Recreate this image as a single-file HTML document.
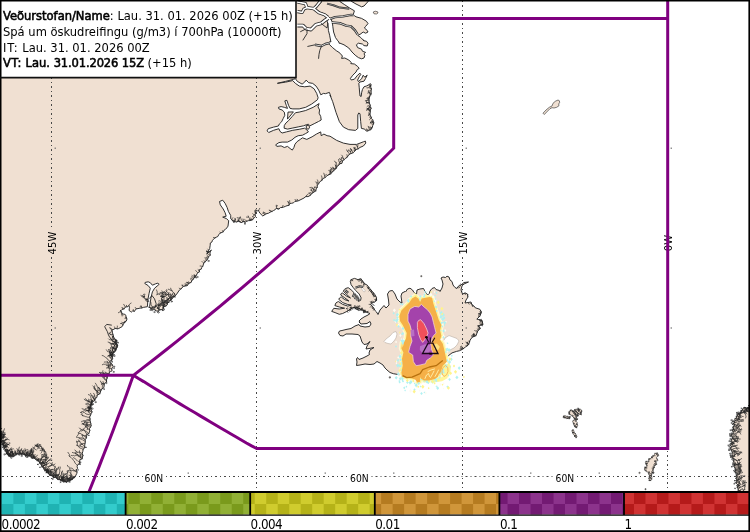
<!DOCTYPE html>
<html lang="is"><head><meta charset="utf-8"><title>Spá um öskudreifingu</title>
<style>
html,body{margin:0;padding:0;background:#fff;overflow:hidden;}
body{width:750px;height:532px;overflow:hidden;position:relative;font-family:'DejaVu Sans Condensed', 'Liberation Sans', sans-serif;}
#map{position:absolute;left:0;top:0;width:750px;height:532px;display:block;}
.land{fill:#f0e0d2;stroke:#262626;stroke-width:0.95;stroke-linejoin:round;}
.fj{fill:#fff;stroke:#262626;stroke-width:0.8;stroke-linejoin:round;}
.ln{fill:none;stroke:#262626;stroke-width:0.9;stroke-linejoin:round;stroke-linecap:round;}
.rl{fill:none;stroke:#262626;stroke-width:0.7;stroke-linejoin:round;stroke-linecap:round;}
.fir{fill:none;stroke:#800080;stroke-width:3;stroke-linejoin:miter;stroke-linecap:butt;}
.grid{fill:none;stroke:#484848;stroke-width:1;stroke-dasharray:2 3 1 3;}
.lab{font-family:'DejaVu Sans Condensed', 'Liberation Sans', sans-serif;font-size:11.2px;fill:#000;text-anchor:middle;}
#info{position:absolute;left:0;top:0;width:296px;height:78px;background:#fff;}
#info div{position:absolute;left:3px;white-space:nowrap;font-size:12.8px;line-height:16px;color:#000;}
#info b{font-weight:normal;-webkit-text-stroke:0.55px #000;}
#legend{position:absolute;left:0;top:491px;width:750px;height:41px;background:#fff;}
.lg{position:absolute;top:516.6px;font-size:13.3px;line-height:15px;letter-spacing:-0.55px;color:#000;white-space:nowrap;}
#frame{position:absolute;left:0;top:0;width:750px;height:532px;box-sizing:border-box;pointer-events:none;}
</style></head><body>
<svg id="map" width="750" height="532" viewBox="0 0 750 532">
<rect x="0" y="0" width="750" height="532" fill="#fff"/>
<g class="land">
<path d="M319.8 -1.6 319.8 1.2 315.8 5.6 313.8 8.4 319.0 13.2 324.6 15.2 326.2 17.2 326.4 19.2 328.0 24.0 328.4 30.4 329.6 35.2 330.9 42.0 329.7 41.6 329.1 44.2 332.3 47.4 336.3 50.7 339.2 52.5 340.0 53.2 342.4 56.0 341.6 58.4 344.8 58.0 348.8 60.0 351.2 62.4 350.8 63.6 354.4 64.0 357.6 66.4 359.2 68.4 357.2 69.6 356.0 72.0 352.8 75.2 350.4 78.4 351.2 80.0 354.4 79.2 357.6 75.2 360.0 73.2 360.8 74.4 359.2 76.8 357.6 80.0 358.4 81.6 361.6 78.8 363.2 75.2 364.8 77.2 367.2 75.2 365.6 78.4 364.0 81.2 360.0 82.0 358.8 83.2 359.2 87.2 359.6 92.0 360.0 96.0 361.2 96.4 361.6 92.8 362.4 89.6 364.0 86.8 366.4 86.0 368.8 84.8 370.4 83.6 371.0 84.9 370.7 86.1 370.9 87.6 371.5 88.7 371.4 89.5 371.0 90.8 371.2 92.2 371.2 93.4 371.1 94.5 370.1 94.8 369.9 96.1 369.3 97.3 369.2 98.5 369.0 99.5 369.1 100.5 369.1 102.1 369.5 102.8 369.6 103.9 370.4 105.3 370.0 106.5 370.7 107.2 371.1 108.6 370.3 109.9 370.2 111.0 370.2 112.0 370.0 113.4 370.0 114.5 370.4 115.9 371.4 117.2 371.6 118.6 372.6 119.8 373.3 121.3 373.8 122.9 373.3 124.2 372.7 125.6 372.4 127.0 371.9 127.9 371.2 129.2 370.0 130.0 368.6 130.3 367.7 131.0 366.3 131.1 364.7 129.1 361.4 128.4 360.7 121.7 360.0 113.7 358.7 113.0 357.8 115.0 357.8 128.4 355.4 130.4 348.7 129.7 343.4 127.1 339.4 121.7 336.0 112.4 332.7 101.7 330.0 95.0 330.8 96.4 329.4 92.4 325.4 93.7 323.4 93.4 320.8 94.8 318.7 90.1 316.1 86.1 312.7 83.4 308.7 82.7 306.1 80.1 304.7 82.1 302.1 84.1 297.4 81.4 295.4 78.7 293.4 79.4 285.4 81.4 277.4 83.3 285.4 82.2 292.7 80.6 295.4 83.4 299.4 86.1 304.7 86.8 310.1 86.1 314.1 88.8 316.7 93.4 318.1 97.7 317.4 99.8 311.6 104.1 305.7 107.3 299.2 108.9 292.8 108.9 290.1 108.4 288.5 105.2 286.9 100.3 284.8 100.9 286.4 105.7 287.5 108.4 284.3 107.3 281.1 106.6 278.4 107.3 278.9 108.9 282.1 110.0 284.3 112.1 284.8 115.3 283.2 118.5 281.6 121.8 279.4 123.9 278.4 126.0 273.6 127.1 268.2 128.7 267.1 130.9 268.7 132.5 273.6 130.3 278.9 128.7 280.0 131.4 282.1 133.0 286.4 131.9 292.8 130.3 299.2 129.3 304.6 128.2 306.8 129.8 308.4 131.9 305.7 133.5 302.5 135.2 298.2 135.7 295.0 137.3 291.8 140.0 287.5 142.1 282.1 142.1 278.9 142.6 275.7 144.8 276.8 146.4 281.1 145.9 284.3 147.5 287.5 146.4 290.1 148.5 292.3 150.1 293.9 147.5 295.0 144.2 297.1 141.6 300.3 139.4 302.5 137.8 306.8 139.4 312.1 136.8 316.4 134.1 320.7 131.9 321.2 135.7 323.9 134.1 327.1 135.7 330.0 136.2 336.7 140.4 343.4 143.1 350.0 144.4 356.7 144.4 363.4 141.8 365.4 141.1 365.8 143.1 363.4 146.0 360.0 147.4 358.1 148.9 355.6 149.6 354.7 151.2 353.1 152.8 351.0 153.5 349.2 154.4 348.1 155.9 346.8 157.6 345.2 158.5 344.1 159.8 342.5 160.8 342.0 163.3 339.9 163.7 338.5 165.4 336.9 166.4 336.5 168.2 334.8 169.4 333.7 170.9 332.0 172.0 330.7 174.0 328.5 174.9 326.6 175.9 325.3 177.5 322.8 178.6 321.9 180.4 319.8 181.7 318.7 183.5 317.3 185.5 317.2 187.5 316.1 188.9 315.9 190.9 314.7 191.6 313.1 192.6 311.6 193.7 310.3 195.4 308.0 196.6 305.7 196.6 304.0 198.0 300.0 200.0 298.3 200.8 296.6 201.2 294.8 201.5 293.5 202.8 291.6 203.3 289.9 203.4 288.9 205.4 287.0 205.7 285.3 206.4 283.8 207.0 282.0 207.5 280.4 207.6 278.9 209.0 276.4 208.2 275.3 209.6 273.4 210.6 272.0 211.4 270.1 212.2 268.6 213.2 266.3 213.7 264.6 214.8 262.8 216.0 260.1 213.4 259.0 211.7 258.6 210.5 257.5 210.8 255.6 209.8 256.1 211.6 255.5 213.0 255.1 214.5 255.5 216.5 254.3 217.9 253.2 218.9 252.1 220.0 250.1 220.6 248.6 220.6 246.8 221.2 245.0 222.3 243.4 221.6 241.5 222.5 240.2 222.0 238.2 221.0 236.2 221.9 234.4 221.5 232.8 221.0 231.9 219.8 230.7 218.7 230.7 215.4 228.4 211.4 227.1 207.4 225.1 203.3 222.7 200.2 219.5 201.5 220.3 204.9 223.2 209.0 225.1 212.7 226.2 216.2 222.7 217.1 226.4 218.6 228.7 220.7 228.0 226.1 227.0 227.8 225.7 229.0 224.1 230.2 223.1 231.9 221.4 232.6 219.7 233.4 218.7 234.8 217.8 236.5 216.3 237.2 214.9 237.9 213.7 239.1 212.5 240.3 212.0 241.9 210.3 243.0 210.2 245.3 209.9 247.0 209.7 248.7 208.6 250.5 207.8 252.1 206.7 254.1 211.4 250.0 210.4 251.6 209.9 253.0 210.3 255.1 208.8 256.6 208.1 257.8 207.3 259.6 206.1 260.7 204.8 262.2 203.8 263.0 203.2 265.0 202.8 266.3 201.7 267.6 201.2 269.2 199.3 269.7 199.5 271.8 197.8 272.7 197.1 273.8 196.1 275.7 195.3 276.9 193.8 278.1 193.1 279.6 191.7 280.5 191.3 282.3 189.8 282.9 188.4 283.7 187.6 285.3 185.9 285.9 184.5 286.1 183.1 286.3 182.0 288.0 180.8 289.0 179.4 290.1 176.7 294.1 175.7 295.3 174.9 296.3 173.6 297.0 172.4 298.1 171.7 299.1 170.8 300.4 169.4 300.4 169.0 302.3 167.6 302.7 167.2 304.7 166.4 305.7 164.8 306.4 163.6 306.9 163.5 308.4 162.2 309.6 160.6 309.7 159.5 309.9 158.4 311.3 156.5 310.9 155.3 310.5 154.0 309.2 152.6 309.1 151.2 309.0 150.0 307.7 149.6 306.7 150.3 302.1 151.1 297.0 152.4 291.9 154.6 288.2 157.1 286.1 159.1 284.3 157.9 283.1 155.4 283.9 152.4 285.2 150.3 282.7 148.2 281.8 145.2 282.4 144.8 283.5 148.2 285.6 150.3 288.2 149.0 293.7 147.9 299.5 147.4 306.7 143.3 307.4 141.6 308.0 140.0 308.1 138.0 308.6 136.2 308.8 135.4 309.9 134.3 311.4 132.8 310.8 131.3 312.1 130.3 311.4 129.1 310.5 129.3 308.7 129.5 307.3 128.9 305.7 127.3 306.8 125.4 306.9 124.3 308.7 122.9 309.2 121.4 310.2 120.0 310.8 121.6 311.8 121.8 313.6 123.2 314.0 124.9 314.4 125.9 315.3 126.0 316.6 126.7 318.3 126.9 320.0 125.9 321.2 125.0 322.4 123.7 323.4 122.9 325.1 121.8 326.9 120.1 327.7 118.8 328.5 117.3 328.8 115.1 328.4 113.9 329.3 112.6 329.8 111.6 330.1 112.3 331.4 112.5 332.9 113.0 334.6 113.3 336.0 113.9 337.4 114.2 338.6 116.1 339.7 115.2 341.0 115.6 342.7 116.6 343.7 117.5 344.9 116.9 346.3 116.5 347.8 115.6 349.0 115.5 350.3 114.9 352.1 112.9 352.5 112.4 354.4 110.7 354.6 110.0 356.0 116.8 340.0 116.9 341.6 116.4 342.9 116.6 344.1 117.7 345.6 117.1 347.3 116.4 348.8 115.8 350.5 114.2 350.8 113.1 352.4 112.4 353.4 112.8 354.6 112.7 356.2 112.4 357.3 112.6 358.4 112.0 359.9 111.1 360.7 109.7 361.3 110.2 362.7 111.6 363.7 112.4 365.0 113.2 366.7 112.2 367.8 111.7 369.0 112.1 370.8 110.6 371.5 109.4 372.2 109.1 373.8 108.0 374.9 107.5 375.7 107.2 377.0 107.0 378.5 106.5 379.9 106.6 381.9 105.5 382.6 104.3 383.9 104.1 385.2 104.0 387.1 103.0 388.5 101.6 388.9 101.0 390.4 100.3 392.1 99.9 393.8 98.0 394.6 97.1 395.6 96.9 397.4 95.6 398.3 94.4 399.0 94.4 400.7 93.0 401.5 91.9 402.6 91.1 404.1 90.5 405.2 89.7 406.7 89.9 408.4 89.1 409.8 88.7 411.0 92.1 400.0 92.1 401.8 91.6 403.8 91.2 405.5 90.5 407.1 90.7 408.7 91.3 410.2 92.1 411.9 90.9 413.9 90.5 415.5 89.6 417.0 90.1 418.9 90.0 420.3 90.4 421.8 90.8 423.8 91.2 425.5 90.5 427.2 89.4 428.7 89.8 430.5 89.4 431.9 88.8 433.6 87.2 434.3 86.6 436.2 86.5 437.9 85.2 439.5 85.3 441.6 85.1 443.2 84.7 445.1 84.8 447.1 83.9 448.3 83.1 449.7 82.8 451.5 82.2 453.6 83.0 455.3 82.4 457.2 82.2 458.9 79.9 459.5 79.7 461.8 79.2 463.8 77.4 465.1 77.1 466.6 77.6 468.4 76.4 469.7 77.0 471.9 76.8 473.4 74.8 477.4 73.6 477.7 72.6 478.2 72.3 479.4 70.7 479.1 70.1 480.2 69.2 480.8 68.1 481.1 67.4 481.1 66.8 482.4 65.6 481.5 64.4 481.7 63.2 482.0 62.6 480.2 61.2 480.9 60.2 479.9 59.5 479.0 57.7 479.5 57.1 478.4 56.2 477.6 55.5 477.1 53.5 477.7 52.9 476.7 52.1 475.7 51.2 475.4 49.7 475.4 49.2 474.1 48.2 473.5 47.7 472.2 46.1 472.8 46.7 470.7 44.8 470.8 44.4 469.9 43.7 468.7 43.6 467.4 42.1 467.1 41.7 466.1 41.6 464.8 40.6 463.9 39.6 463.2 39.6 461.9 38.7 461.4 34.7 458.7 34.0 457.6 32.7 458.3 31.7 458.1 31.2 457.2 30.6 455.8 29.2 455.7 28.8 455.4 28.0 455.1 27.0 455.2 25.5 456.0 25.3 454.4 24.1 454.3 23.1 454.0 22.1 454.1 21.0 454.2 20.5 453.6 19.5 453.8 18.3 454.2 17.0 453.2 16.5 454.6 15.3 455.2 14.4 455.9 13.4 456.6 12.5 456.3 11.1 455.6 10.5 456.1 9.8 456.3 9.3 455.3 8.3 455.0 7.7 454.0 6.2 453.6 6.4 452.5 6.2 451.5 4.9 450.9 5.1 449.4 4.6 448.5 4.1 447.5 3.7 446.8 3.3 446.2 3.4 444.9 2.0 444.4 2.6 443.6 1.9 442.6 1.0 441.8 2.3 440.7 1.9 439.9 1.0 438.8 2.0 438.1 1.5 436.7 0.6 436.0 1.0 435.0 1.7 433.9 0.6 433.2 1.7 431.6 0.2 431.4 -0.7 430.8 -1.3 429.8 -2.0 429.0 -3.0 428.6 -4.0 428.0 -5.0 -5.0Z"/>
<path d="M321.4 -1.6 321.4 2.0 317.4 6.0 315.0 8.4 319.0 12.0 324.6 14.0 328.6 16.8 330.6 18.4 332.4 22.4 332.8 26.4 333.6 32.0 335.5 37.6 337.8 40.8 338.9 42.0 339.0 43.2 340.0 43.2 344.0 44.8 348.8 48.0 352.0 52.0 355.2 55.2 358.4 57.6 361.6 58.8 364.0 58.0 364.8 55.6 364.0 53.6 365.6 52.4 362.4 51.2 361.6 49.2 357.6 47.6 356.4 44.8 358.4 43.2 362.4 44.0 364.0 45.6 367.2 46.0 368.0 43.2 366.4 41.2 364.0 40.8 363.2 40.0 364.0 40.8 360.8 37.6 357.6 35.2 360.0 34.4 363.2 32.0 365.6 33.2 368.0 32.0 367.2 30.4 364.4 28.0 365.6 26.4 368.0 23.6 366.4 21.2 361.6 18.4 356.0 16.8 353.2 14.8 354.4 10.8 349.6 8.0 344.8 4.8 340.0 1.6 338.4 -1.6Z"/>
<path d="M351.2 -1.6 351.2 1.2 356.0 4.0 361.6 6.8 364.0 6.0 368.0 1.6 368.4 -1.6Z"/>
<path d="M319.1 103.6 313.2 107.3 305.7 110.5 299.2 112.1 295.5 112.7 292.3 116.4 288.5 120.7 285.9 123.0 284.3 125.5 284.1 128.2 287.5 129.1 292.8 128.0 298.2 126.9 303.5 125.8 306.2 124.8 308.4 124.2 310.0 125.8 314.2 123.7 318.5 121.5 321.2 120.0 320.7 116.4 319.1 113.2 319.6 110.0 318.0 106.8Z"/>
<path d="M288.0 112.1 293.4 111.9 287.5 119.1Z"/>
<path d="M306.2 125.7 308.4 125.2 309.7 127.1 308.4 129.3 306.4 128.5Z"/>
<path d="M331.7 311.4 333.8 308.3 339.3 309.0 344.6 308.2 339.3 307.0 334.9 305.6 335.8 303.1 337.2 302.1 338.5 301.6 342.7 304.4 347.8 306.1 351.3 305.1 347.8 304.5 342.7 302.6 338.8 299.4 339.5 298.0 340.5 297.3 341.3 297.0 344.8 299.7 348.9 301.0 344.8 297.9 340.7 295.0 341.2 293.6 342.2 292.9 343.0 293.4 346.9 296.3 350.5 298.0 346.9 294.7 343.3 291.3 344.4 289.4 345.9 288.4 348.2 287.7 351.1 289.8 354.5 293.2 357.9 296.6 359.2 299.5 358.3 301.4 360.6 300.4 361.1 297.8 359.2 294.0 355.8 290.6 353.3 287.7 351.1 284.7 350.3 281.4 351.1 279.6 354.5 278.4 357.9 279.6 360.9 278.8 363.0 281.8 364.7 283.9 367.2 285.1 369.8 288.5 372.3 291.5 374.8 294.5 376.5 297.8 376.5 300.4 374.4 302.1 372.3 302.5 370.6 304.2 372.3 306.3 374.0 308.8 375.7 311.4 376.5 312.0 378.0 314.5 380.0 310.0 384.0 305.5 386.0 308.0 389.0 305.0 388.5 300.0 387.5 294.0 389.5 291.0 392.5 290.5 395.0 294.0 397.0 299.0 400.0 302.0 402.0 303.0 401.0 296.0 402.0 293.0 405.0 291.5 405.5 292.0 407.5 289.0 410.0 288.2 412.5 290.0 414.0 292.5 416.5 294.5 417.0 290.0 420.0 289.0 423.5 288.5 425.0 291.5 427.0 294.5 429.0 294.5 430.0 291.0 432.0 288.5 434.5 287.5 436.0 289.5 439.5 290.5 440.0 291.5 442.0 288.0 443.0 284.0 442.0 280.0 441.0 278.0 443.0 277.0 445.5 277.5 447.0 276.2 449.0 277.0 450.0 280.0 452.0 281.5 453.0 285.0 455.0 287.5 457.0 288.5 458.0 286.5 461.0 285.0 464.0 282.5 468.5 282.0 464.0 284.0 462.0 286.0 461.0 290.0 462.5 294.0 465.0 293.0 467.5 294.0 468.0 297.0 466.0 300.0 465.0 303.0 468.0 302.5 471.0 302.0 472.0 305.0 475.0 307.0 475.3 307.8 479.9 309.3 481.4 312.3 479.9 316.1 476.8 319.1 482.1 320.6 482.9 324.4 477.6 325.9 480.6 328.1 477.6 331.1 476.1 335.6 472.3 337.1 470.1 340.1 468.6 344.7 465.6 346.9 462.6 349.2 459.6 350.7 456.5 351.4 452.0 352.9 449.0 355.2 447.0 357.0 442.8 360.4 436.1 365.7 429.4 367.0 422.7 369.7 420.1 373.7 412.0 377.1 406.7 377.7 401.4 375.1 393.4 373.7 390.0 372.5 387.0 370.0 385.0 368.0 383.0 365.0 380.0 363.0 377.0 361.5 374.0 364.0 370.0 364.5 365.0 364.0 360.0 365.0 356.5 365.5 357.0 362.0 356.5 359.0 357.5 357.5 359.0 359.5 363.0 358.0 367.0 356.0 369.5 354.5 369.0 353.0 370.0 350.0 374.0 347.5 369.0 348.5 366.0 349.0 367.0 346.0 370.0 341.5 367.0 344.0 364.0 344.5 362.0 342.0 361.0 339.0 360.0 336.0 358.0 334.5 352.0 334.0 346.0 334.0 343.0 336.0 340.0 335.5 338.5 333.0 339.5 331.0 342.0 330.5 346.0 329.5 351.0 328.5 355.0 326.0 359.0 324.5 360.0 326.0 365.0 327.0 369.5 326.5 371.0 324.0 370.0 321.5 367.0 323.5 361.0 324.0 359.0 322.0 360.0 322.5 359.0 321.0 361.0 319.0 364.0 317.0 368.0 315.0 370.0 313.5 366.4 312.2 363.8 310.5 361.3 309.7 358.8 308.0 355.4 307.1 352.8 307.6 351.1 308.8 346.9 311.4 342.7 313.5 339.3 314.3 335.1 312.6Z"/>
<path d="M552.0 106.0 553.0 103.3 555.3 101.3 558.0 100.0 559.3 100.7 559.7 102.3 558.7 104.0 559.0 105.7 556.7 107.3 554.0 108.0 552.0 107.7 550.0 108.7 546.7 112.0 544.3 114.5 543.0 113.2 546.0 110.0 549.3 107.3Z" stroke-width="0.6"/>
<path d="M373.2 12.0 375.2 11.2 377.6 11.8 378.0 13.0 376.4 14.0 374.0 13.8Z" stroke-width="0.6"/>
<path d="M574.2 409.5 575.3 409.4 576.0 409.3 576.5 409.0 577.3 409.8 578.4 410.2 578.6 411.2 579.7 411.9 580.5 412.9 581.1 413.6 581.5 415.0 580.2 414.3 579.2 414.2 578.1 413.5 577.0 412.7 576.0 412.1 575.9 410.9 575.1 410.0Z" stroke-width="0.6"/>
<path d="M577.6 408.4 578.4 408.9 579.9 409.1 580.4 409.7 581.8 410.2 581.7 411.3 581.2 412.8 580.4 412.3 579.7 411.4 579.4 410.6 578.4 410.1 578.2 408.9Z" stroke-width="0.6"/>
<path d="M573.0 411.0 574.4 410.5 575.3 410.9 575.9 411.6 576.7 412.3 577.2 413.0 577.8 413.9 578.2 415.3 578.2 416.2 577.2 416.1 576.9 415.7 575.9 415.0 575.5 414.5 575.1 413.8 574.0 413.4 573.6 412.7 573.2 411.7Z" stroke-width="0.6"/>
<path d="M568.5 411.8 569.6 411.6 570.2 410.3 571.0 409.9 572.3 410.4 572.6 411.4 573.7 411.8 574.5 412.4 575.2 413.3 575.4 413.8 575.6 414.6 575.8 415.9 576.7 416.9 576.5 417.9 577.4 419.1 577.4 419.6 576.8 419.8 575.8 419.9 575.2 418.8 574.0 418.3 573.6 417.3 572.7 416.5 571.9 415.6 571.2 415.0 570.0 414.7 568.9 414.0 569.0 413.1Z" stroke-width="0.6"/>
<path d="M562.9 416.7 563.7 416.1 564.9 415.5 565.9 416.0 566.5 416.3 567.2 416.3 568.3 416.4 569.0 417.0 570.2 416.7 569.7 417.7 569.5 418.8 568.2 418.5 567.5 418.4 566.1 418.3 565.0 417.7 564.0 417.9 563.3 417.0Z" stroke-width="0.6"/>
<path d="M572.7 420.8 573.6 420.5 575.0 419.7 575.9 420.6 576.2 421.4 577.3 422.4 577.0 423.3 577.3 424.5 577.8 425.6 577.2 425.9 576.9 426.9 576.5 427.8 575.4 427.2 574.6 426.4 574.3 425.7 574.0 424.8 573.4 423.9 573.4 423.0 572.7 421.8Z" stroke-width="0.6"/>
<path d="M571.9 430.2 572.9 429.8 573.6 429.9 573.7 431.1 574.3 431.8 574.6 432.7 575.4 433.6 575.8 434.4 576.3 435.2 577.0 436.2 576.5 437.2 576.4 437.7 575.7 437.0 574.7 436.6 574.5 435.6 574.0 435.0 573.3 434.0 572.9 433.3 572.5 432.5 572.1 431.5Z" stroke-width="0.6"/>
<path d="M654.8 453.0 655.9 453.4 657.2 452.9 657.9 453.8 658.5 455.2 657.8 456.2 657.1 456.6 656.3 457.9 657.1 458.8 657.4 459.2 658.0 460.6 656.7 460.9 655.7 460.9 656.1 462.1 655.7 463.0 656.8 464.1 655.8 464.5 655.3 465.3 654.3 465.4 654.2 466.7 654.4 467.6 653.5 467.8 653.5 469.0 652.9 469.4 653.1 470.4 653.1 471.8 654.0 472.9 652.9 472.7 652.3 473.0 651.4 474.1 651.6 474.9 651.6 476.3 651.8 477.1 651.8 478.4 651.9 479.6 650.7 480.2 649.9 480.7 649.0 480.4 649.3 479.1 648.8 478.4 649.3 477.2 649.1 476.3 649.4 475.3 648.6 473.9 648.6 472.9 648.1 472.0 646.7 471.9 646.0 471.0 645.5 470.4 644.8 470.1 644.4 469.1 644.8 468.2 644.6 466.9 645.3 467.1 646.1 468.1 646.2 466.7 646.7 465.8 646.9 465.0 646.1 464.3 645.8 463.6 645.4 462.4 645.9 461.4 646.7 461.4 647.7 461.9 648.3 462.2 648.1 461.1 649.1 460.3 648.5 459.0 649.8 458.5 650.8 458.8 651.1 457.9 651.7 457.3 652.0 456.4 652.9 455.8 653.8 455.7 654.4 454.6 654.6 453.7Z" stroke-width="0.6"/>
<path d="M639.0 472.4 639.9 472.2 640.2 473.2 639.4 473.6 638.8 473.2Z" stroke-width="0.6"/>
<path d="M754.5 406.3 753.6 406.1 752.4 406.9 751.6 406.7 750.3 407.3 749.2 407.7 748.3 407.9 747.1 407.5 746.5 407.9 745.0 407.5 744.0 407.4 743.4 408.1 742.6 409.1 742.5 410.3 740.9 410.6 741.7 412.2 740.1 412.3 739.8 413.9 737.8 413.4 737.6 414.7 737.6 415.7 736.2 416.2 736.9 418.1 735.2 418.3 734.6 419.2 735.7 420.7 733.7 420.9 735.0 422.3 733.2 423.3 734.5 424.5 734.2 425.8 732.7 427.0 733.4 428.0 733.5 429.6 732.1 430.4 733.1 431.9 733.2 433.5 731.5 434.3 731.4 435.6 732.1 436.5 732.4 438.2 731.5 439.2 731.8 440.3 730.8 441.1 731.9 442.6 731.8 443.3 731.3 444.3 730.5 445.4 731.8 446.6 730.3 447.8 730.9 448.9 730.9 449.9 731.8 451.0 732.3 452.4 732.0 453.1 732.2 454.7 732.3 455.7 732.1 456.9 732.5 458.2 734.3 458.9 733.3 460.5 733.6 461.5 732.9 462.6 734.5 463.8 734.6 465.0 734.0 466.3 734.5 467.3 735.1 468.0 735.2 469.2 735.6 470.5 735.2 471.7 735.3 472.9 736.8 473.8 737.1 474.8 736.1 476.3 736.6 477.0 735.9 478.5 736.6 479.4 736.3 480.5 736.7 481.4 736.6 482.7 736.5 483.6 737.4 484.4 738.2 485.5 737.3 487.1 737.4 488.0 738.5 488.8 738.1 490.0 738.1 491.2 739.0 492.0 754.5 492.0Z"/>
<path d="M645.0 488.7 646.0 488.7 646.0 489.7 645.0 489.7Z" stroke-width="0.6"/>
<path d="M420.8 275.7 421.8 275.7 421.8 276.7 420.8 276.7Z" stroke-width="0.6"/>
<path d="M389.2 376.9 390.3 376.7 390.5 377.9 389.4 378.1Z" stroke-width="0.6"/>
</g>
<path d="M384.0 341.5 386.0 339.0 390.0 336.0 393.0 332.5 396.0 331.5 397.0 334.0 396.0 338.0 394.0 341.0 391.0 344.0 388.0 343.5 385.0 342.5Z" fill="#fff" stroke="#b9aca2" stroke-width="0.6"/>
<path d="M445.0 338.0 449.0 335.5 453.0 337.0 457.0 338.5 459.0 341.0 457.0 345.0 454.0 348.0 450.0 350.0 447.0 351.0 445.0 349.0 444.0 345.0 444.0 341.0Z" fill="#fff" stroke="#b9aca2" stroke-width="0.6"/>
<path d="M360.9 287.7 362.6 287.5 365.1 290.6 364.9 291.8 363.4 291.5Z" fill="#fff" stroke="#b9aca2" stroke-width="0.6"/>
<g stroke-linejoin="round">
<path d="M402.1 340.4 401.9 340.4 401.6 340.4 401.4 340.5 401.1 340.6 400.9 340.7 400.7 340.8 400.5 340.9 400.3 341.1 400.1 341.3 399.9 341.5 399.8 341.7 399.7 341.9 399.6 342.2 399.5 342.4 399.5 342.7 398.8 348.0 398.8 348.3 398.8 348.5 398.8 348.8 398.9 349.0 398.9 349.3 399.0 349.5 400.6 352.7 399.5 358.5 399.4 358.8 399.4 359.0 399.4 359.3 400.1 365.6 398.8 371.9 398.8 372.1 398.8 372.3 398.8 372.6 398.8 372.8 399.5 376.8 399.5 377.1 399.6 377.3 399.7 377.6 399.8 377.8 400.0 378.0 400.2 378.2 400.4 378.4 400.6 378.6 400.8 378.7 401.1 378.8 401.3 378.9 406.0 380.2 406.2 380.3 406.4 380.3 411.4 380.9 413.7 381.9 415.3 384.0 415.5 384.2 415.6 384.3 415.8 384.5 416.1 384.6 416.3 384.8 416.5 384.9 416.8 384.9 417.0 385.0 417.3 385.0 417.5 385.0 417.8 385.0 418.0 384.9 420.7 384.3 420.9 384.2 421.2 384.1 421.4 383.9 421.6 383.8 421.8 383.6 422.0 383.4 422.2 383.2 422.3 383.0 422.4 382.8 422.5 382.6 422.6 382.7 422.8 382.8 423.1 382.9 423.3 383.0 423.5 383.1 423.8 383.1 424.0 383.1 429.0 383.1 429.3 383.1 429.6 383.0 435.6 381.5 435.9 381.4 436.1 381.3 436.4 381.2 436.6 381.1 441.1 377.6 441.3 377.4 441.5 377.2 441.6 377.0 441.8 376.8 441.9 376.5 442.0 376.3 442.0 376.0 442.1 375.8 442.1 375.3 442.2 375.2 442.3 375.0 442.5 374.8 442.5 374.5 445.0 367.1 448.6 363.5 448.8 363.3 448.9 363.1 449.1 362.9 449.2 362.7 449.2 362.5 449.3 362.2 449.3 362.0 449.4 361.7 449.3 361.4 449.3 361.2 448.0 354.5 448.0 354.5 446.6 348.5 446.6 348.5 445.3 343.1 445.2 342.8 445.1 342.6 444.9 342.3 442.9 339.4 443.9 336.6 444.0 336.3 444.0 336.1 444.0 335.8 444.0 335.6 444.0 335.3 443.9 335.1 442.8 330.4 443.9 325.7 444.0 325.4 444.0 325.2 444.0 324.9 444.0 324.6 443.9 324.4 443.9 324.1 443.7 323.9 441.1 318.7 435.9 303.0 434.6 297.1 434.5 296.9 434.4 296.6 434.3 296.4 434.2 296.2 434.0 296.0 433.8 295.8 433.6 295.6 433.4 295.5 433.2 295.3 432.9 295.2 432.7 295.2 430.0 294.5 429.8 294.4 429.5 294.4 429.2 294.4 429.0 294.5 421.2 295.8 421.0 295.8 420.7 295.9 420.5 296.0 420.3 296.2 420.1 296.3 419.9 296.2 416.8 294.2 416.6 294.0 416.3 293.9 416.1 293.8 415.8 293.8 415.6 293.8 415.3 293.8 415.0 293.8 414.8 293.8 414.5 293.9 414.3 294.0 414.0 294.1 410.7 296.1 410.5 296.2 410.3 296.4 410.2 296.5 410.0 296.7 409.9 296.9 407.3 300.7 399.5 308.5 399.3 308.7 399.2 309.0 399.0 309.2 398.9 309.5 396.9 314.8 396.8 315.0 396.8 315.3 396.8 315.5 396.8 315.8 396.8 316.0 397.5 321.4 397.5 321.6 397.6 321.8 397.6 322.1 397.7 322.3 397.9 322.5 400.4 326.4 402.4 330.2 404.0 333.5 403.5 337.6Z" fill="#fffbd8" opacity="0.9"/>
<path d="M402.7 341.8 402.6 341.7 402.5 341.7 402.4 341.7 402.2 341.6 402.1 341.6 401.9 341.6 401.8 341.6 401.7 341.7 401.5 341.7 401.4 341.8 401.3 341.8 401.2 341.9 401.1 342.0 401.0 342.1 400.9 342.2 400.8 342.3 400.8 342.4 400.7 342.6 400.7 342.7 400.6 342.8 400.0 348.2 400.0 348.3 400.0 348.4 400.0 348.6 400.0 348.7 400.1 348.8 400.1 349.0 401.9 352.6 400.7 358.8 400.6 358.9 400.6 359.0 400.6 359.2 401.3 365.6 400.0 372.1 400.0 372.2 400.0 372.4 400.0 372.5 400.0 372.6 400.6 376.6 400.7 376.8 400.7 376.9 400.8 377.0 400.9 377.2 400.9 377.3 401.0 377.4 401.1 377.5 401.3 377.6 401.4 377.6 401.5 377.7 401.6 377.7 406.3 379.1 406.4 379.1 406.5 379.1 411.7 379.8 414.5 380.9 416.3 383.2 416.3 383.3 416.4 383.4 416.6 383.5 416.7 383.6 416.8 383.7 416.9 383.7 417.0 383.8 417.2 383.8 417.3 383.8 417.5 383.8 417.6 383.8 417.7 383.8 420.4 383.1 420.5 383.0 420.7 383.0 420.8 382.9 420.9 382.8 421.0 382.7 421.1 382.6 421.2 382.5 421.3 382.4 421.3 382.3 421.4 382.2 421.4 382.0 421.4 381.9 421.4 381.7 421.4 380.6 423.3 381.7 423.4 381.8 423.5 381.8 423.6 381.8 423.7 381.9 423.9 381.9 424.0 381.9 429.0 381.9 429.2 381.9 429.3 381.9 429.5 381.8 435.0 382.2 442.0 381.2 447.5 378.2 450.2 373.0 451.0 366.0 448.1 362.0 448.1 362.0 448.2 361.8 448.2 361.7 448.2 361.6 448.1 361.4 446.8 354.8 446.8 354.7 445.5 348.8 445.4 348.7 444.1 343.4 444.1 343.2 444.0 343.1 443.9 343.0 441.6 339.5 442.7 336.2 442.8 336.0 442.8 335.9 442.8 335.8 442.8 335.7 442.8 335.5 442.8 335.4 441.5 330.4 442.8 325.4 442.8 325.3 442.8 325.1 442.8 325.0 442.8 324.8 442.8 324.7 442.7 324.6 442.7 324.4 440.0 319.2 434.8 303.3 433.4 297.4 433.4 297.2 433.3 297.1 433.3 297.0 433.2 296.9 433.1 296.8 433.0 296.7 432.9 296.6 432.8 296.5 432.7 296.4 432.5 296.4 432.4 296.3 429.7 295.7 429.6 295.6 429.5 295.6 429.3 295.6 429.2 295.6 421.4 297.0 421.3 297.0 421.2 297.0 421.0 297.1 420.9 297.2 420.8 297.3 420.7 297.3 420.6 297.4 420.5 297.6 420.4 297.7 420.4 297.8 420.1 298.5 419.7 297.8 419.7 297.7 419.6 297.6 419.5 297.4 419.4 297.3 419.3 297.3 419.2 297.2 416.1 295.2 416.0 295.1 415.9 295.0 415.8 295.0 415.6 295.0 415.5 295.0 415.3 295.0 415.2 295.0 415.1 295.0 414.9 295.0 414.8 295.1 414.7 295.1 411.3 297.1 411.2 297.2 411.1 297.3 411.0 297.4 410.9 297.5 410.9 297.6 408.3 301.5 400.4 309.4 400.3 309.5 400.2 309.6 400.1 309.7 400.0 309.9 398.0 315.2 398.0 315.3 398.0 315.5 398.0 315.6 398.0 315.7 398.0 315.9 398.6 321.2 398.7 321.4 398.7 321.5 398.7 321.6 398.8 321.7 398.9 321.8 401.5 325.8 403.4 329.7 405.3 333.3 404.7 338.0 402.8 341.8 402.8 341.8Z" fill="#fff59a"/>
<path d="M439.5 384.5l1.2 -1.4l1.2 1.4l-1.2 1.4zM446.7 378.5l1.5 -1.8l1.5 1.8l-1.5 1.8zM408.6 384.7l1.1 -1.3l1.1 1.3l-1.1 1.3zM446.9 351.6l1.0 -1.1l1.0 1.1l-1.0 1.1zM440.5 376.0l1.3 -1.6l1.3 1.6l-1.3 1.6zM392.8 310.3l1.6 -1.9l1.6 1.9l-1.6 1.9zM395.6 363.2l0.9 -1.1l0.9 1.1l-0.9 1.1zM445.1 363.3l1.5 -1.8l1.5 1.8l-1.5 1.8zM429.0 294.5l1.7 -2.0l1.7 2.0l-1.7 2.0zM395.0 342.0l1.1 -1.3l1.1 1.3l-1.1 1.3zM395.9 361.5l0.8 -0.9l0.8 0.9l-0.8 0.9zM397.1 325.2l1.4 -1.7l1.4 1.7l-1.4 1.7zM402.9 388.0l1.2 -1.4l1.2 1.4l-1.2 1.4zM396.3 315.1l1.7 -2.0l1.7 2.0l-1.7 2.0zM441.5 324.7l1.0 -1.2l1.0 1.2l-1.0 1.2zM433.7 301.0l1.4 -1.7l1.4 1.7l-1.4 1.7zM399.2 335.4l1.2 -1.5l1.2 1.5l-1.2 1.5zM418.6 390.6l1.0 -1.2l1.0 1.2l-1.0 1.2zM440.3 339.3l1.2 -1.4l1.2 1.4l-1.2 1.4zM424.1 392.9l1.4 -1.7l1.4 1.7l-1.4 1.7zM415.2 386.2l1.5 -1.8l1.5 1.8l-1.5 1.8zM442.5 383.5l1.1 -1.3l1.1 1.3l-1.1 1.3zM397.7 319.9l0.8 -1.0l0.8 1.0l-0.8 1.0zM394.4 321.6l1.2 -1.4l1.2 1.4l-1.2 1.4zM402.6 339.7l1.2 -1.5l1.2 1.5l-1.2 1.5zM412.7 392.2l1.3 -1.5l1.3 1.5l-1.3 1.5zM429.3 381.5l1.1 -1.3l1.1 1.3l-1.1 1.3zM425.3 382.3l1.2 -1.5l1.2 1.5l-1.2 1.5zM400.7 339.3l0.9 -1.1l0.9 1.1l-0.9 1.1zM434.2 300.1l1.2 -1.4l1.2 1.4l-1.2 1.4zM435.9 386.3l1.2 -1.5l1.2 1.5l-1.2 1.5zM442.7 388.4l0.8 -1.0l0.8 1.0l-0.8 1.0zM397.2 357.4l1.1 -1.4l1.1 1.4l-1.1 1.4zM433.7 292.0l0.8 -1.0l0.8 1.0l-0.8 1.0zM409.0 390.9l1.5 -1.8l1.5 1.8l-1.5 1.8zM423.5 294.1l1.3 -1.6l1.3 1.6l-1.3 1.6zM399.0 370.5l1.4 -1.7l1.4 1.7l-1.4 1.7zM455.3 372.9l0.8 -1.0l0.8 1.0l-0.8 1.0zM407.3 299.9l1.6 -1.9l1.6 1.9l-1.6 1.9zM396.6 318.8l1.4 -1.6l1.4 1.6l-1.4 1.6zM445.3 342.9l1.1 -1.3l1.1 1.3l-1.1 1.3zM399.3 376.0l1.2 -1.4l1.2 1.4l-1.2 1.4zM443.5 341.1l1.2 -1.5l1.2 1.5l-1.2 1.5zM443.9 330.4l1.2 -1.5l1.2 1.5l-1.2 1.5zM445.1 321.8l0.9 -1.1l0.9 1.1l-0.9 1.1zM413.6 380.4l1.6 -2.0l1.6 2.0l-1.6 2.0zM431.1 381.4l1.6 -1.9l1.6 1.9l-1.6 1.9zM442.0 336.4l1.6 -1.9l1.6 1.9l-1.6 1.9zM431.9 297.0l1.3 -1.6l1.3 1.6l-1.3 1.6zM426.0 292.2l1.4 -1.7l1.4 1.7l-1.4 1.7zM446.6 360.3l1.6 -2.0l1.6 2.0l-1.6 2.0zM442.1 314.9l0.8 -1.0l0.8 1.0l-0.8 1.0z" fill="#fdfbf2"/>
<path d="M446.3 386.8l1.2 -1.4l1.2 1.4l-1.2 1.4zM439.2 373.5l1.3 -1.6l1.3 1.6l-1.3 1.6zM444.5 366.4l1.5 -1.8l1.5 1.8l-1.5 1.8zM420.3 379.3l1.0 -1.2l1.0 1.2l-1.0 1.2zM449.9 359.3l1.4 -1.7l1.4 1.7l-1.4 1.7zM419.1 296.5l1.3 -1.5l1.3 1.5l-1.3 1.5zM397.4 359.8l0.8 -1.0l0.8 1.0l-0.8 1.0zM399.3 359.8l1.4 -1.6l1.4 1.6l-1.4 1.6zM392.6 313.3l1.1 -1.3l1.1 1.3l-1.1 1.3zM445.9 365.1l0.9 -1.1l0.9 1.1l-0.9 1.1zM423.5 392.4l0.8 -0.9l0.8 0.9l-0.8 0.9zM407.9 301.1l0.8 -0.9l0.8 0.9l-0.8 0.9zM418.9 299.3l1.0 -1.2l1.0 1.2l-1.0 1.2zM441.2 319.2l1.5 -1.8l1.5 1.8l-1.5 1.8zM442.5 366.2l1.2 -1.4l1.2 1.4l-1.2 1.4zM396.2 317.6l1.2 -1.4l1.2 1.4l-1.2 1.4zM403.2 387.8l1.1 -1.4l1.1 1.4l-1.1 1.4zM446.7 348.4l0.7 -0.9l0.7 0.9l-0.7 0.9zM397.4 326.3l1.1 -1.4l1.1 1.4l-1.1 1.4zM417.4 383.3l1.3 -1.6l1.3 1.6l-1.3 1.6zM394.9 320.8l1.6 -2.0l1.6 2.0l-1.6 2.0zM399.8 370.0l1.3 -1.6l1.3 1.6l-1.3 1.6zM402.3 341.3l1.5 -1.8l1.5 1.8l-1.5 1.8zM441.9 370.5l1.2 -1.5l1.2 1.5l-1.2 1.5zM425.2 292.3l0.9 -1.1l0.9 1.1l-0.9 1.1zM406.7 300.8l1.7 -2.0l1.7 2.0l-1.7 2.0zM440.3 316.7l0.8 -1.0l0.8 1.0l-0.8 1.0zM447.3 349.9l1.7 -2.0l1.7 2.0l-1.7 2.0zM442.9 317.9l1.3 -1.5l1.3 1.5l-1.3 1.5zM455.3 377.4l1.6 -1.9l1.6 1.9l-1.6 1.9zM451.0 355.8l0.9 -1.1l0.9 1.1l-0.9 1.1zM404.3 390.5l0.8 -1.0l0.8 1.0l-0.8 1.0zM395.0 346.5l1.0 -1.2l1.0 1.2l-1.0 1.2zM426.9 382.7l1.3 -1.5l1.3 1.5l-1.3 1.5zM400.7 353.8l1.0 -1.2l1.0 1.2l-1.0 1.2zM437.4 388.5l0.8 -1.0l0.8 1.0l-0.8 1.0zM406.1 382.5l1.3 -1.6l1.3 1.6l-1.3 1.6zM442.9 372.6l1.0 -1.2l1.0 1.2l-1.0 1.2zM435.7 306.7l0.7 -0.9l0.7 0.9l-0.7 0.9zM401.3 304.3l1.1 -1.3l1.1 1.3l-1.1 1.3zM409.0 300.7l0.7 -0.9l0.7 0.9l-0.7 0.9zM437.2 378.7l1.2 -1.4l1.2 1.4l-1.2 1.4zM426.8 380.8l0.7 -0.9l0.7 0.9l-0.7 0.9zM394.7 377.7l1.5 -1.8l1.5 1.8l-1.5 1.8zM398.8 378.7l1.4 -1.7l1.4 1.7l-1.4 1.7zM449.4 366.8l0.7 -0.9l0.7 0.9l-0.7 0.9zM401.4 340.0l0.8 -0.9l0.8 0.9l-0.8 0.9zM434.1 379.5l1.6 -1.9l1.6 1.9l-1.6 1.9zM403.3 387.7l0.9 -1.1l0.9 1.1l-0.9 1.1zM399.9 363.5l1.5 -1.7l1.5 1.7l-1.5 1.7zM398.7 365.9l1.6 -1.9l1.6 1.9l-1.6 1.9zM401.4 343.2l1.5 -1.8l1.5 1.8l-1.5 1.8zM447.8 375.5l0.8 -1.0l0.8 1.0l-0.8 1.0zM436.1 388.1l1.5 -1.8l1.5 1.8l-1.5 1.8zM457.7 368.1l1.5 -1.8l1.5 1.8l-1.5 1.8zM436.1 293.2l0.7 -0.8l0.7 0.8l-0.7 0.8zM434.4 307.3l1.5 -1.8l1.5 1.8l-1.5 1.8zM441.2 326.4l1.0 -1.2l1.0 1.2l-1.0 1.2zM398.5 356.6l1.6 -2.0l1.6 2.0l-1.6 2.0zM405.5 386.7l0.9 -1.1l0.9 1.1l-0.9 1.1zM446.9 343.2l0.8 -1.0l0.8 1.0l-0.8 1.0zM419.7 386.4l0.9 -1.0l0.9 1.0l-0.9 1.0zM401.1 376.8l0.8 -1.0l0.8 1.0l-0.8 1.0zM413.8 383.5l0.8 -0.9l0.8 0.9l-0.8 0.9zM396.2 365.4l1.6 -2.0l1.6 2.0l-1.6 2.0zM435.6 381.1l1.0 -1.2l1.0 1.2l-1.0 1.2zM398.3 381.1l1.0 -1.2l1.0 1.2l-1.0 1.2zM448.3 379.6l1.3 -1.5l1.3 1.5l-1.3 1.5zM430.6 381.6l0.9 -1.1l0.9 1.1l-0.9 1.1zM398.9 364.4l1.6 -2.0l1.6 2.0l-1.6 2.0zM420.3 379.3l0.9 -1.1l0.9 1.1l-0.9 1.1zM439.3 316.9l1.5 -1.8l1.5 1.8l-1.5 1.8zM440.4 323.0l1.2 -1.5l1.2 1.5l-1.2 1.5zM401.6 328.5l1.4 -1.7l1.4 1.7l-1.4 1.7zM393.0 320.1l1.1 -1.3l1.1 1.3l-1.1 1.3zM409.3 382.0l1.6 -1.9l1.6 1.9l-1.6 1.9zM401.9 381.3l1.1 -1.3l1.1 1.3l-1.1 1.3zM425.1 381.4l1.6 -1.9l1.6 1.9l-1.6 1.9zM400.5 340.9l1.4 -1.6l1.4 1.6l-1.4 1.6zM442.2 369.6l1.0 -1.2l1.0 1.2l-1.0 1.2zM443.9 365.0l0.9 -1.1l0.9 1.1l-0.9 1.1zM395.7 315.0l1.2 -1.5l1.2 1.5l-1.2 1.5zM399.5 303.9l1.0 -1.2l1.0 1.2l-1.0 1.2zM420.2 393.5l1.3 -1.6l1.3 1.6l-1.3 1.6zM401.4 379.9l0.9 -1.1l0.9 1.1l-0.9 1.1zM401.1 334.0l0.7 -0.9l0.7 0.9l-0.7 0.9zM423.0 296.8l1.1 -1.3l1.1 1.3l-1.1 1.3zM395.9 319.6l1.4 -1.7l1.4 1.7l-1.4 1.7zM409.8 296.4l1.2 -1.4l1.2 1.4l-1.2 1.4zM435.4 310.9l1.2 -1.4l1.2 1.4l-1.2 1.4zM441.5 314.9l1.7 -2.0l1.7 2.0l-1.7 2.0zM423.1 381.1l1.3 -1.5l1.3 1.5l-1.3 1.5zM442.5 337.3l1.1 -1.3l1.1 1.3l-1.1 1.3zM423.3 294.7l1.2 -1.5l1.2 1.5l-1.2 1.5zM445.2 349.6l1.3 -1.6l1.3 1.6l-1.3 1.6zM435.5 386.3l0.8 -0.9l0.8 0.9l-0.8 0.9zM440.8 316.1l1.0 -1.2l1.0 1.2l-1.0 1.2zM438.8 377.4l1.0 -1.2l1.0 1.2l-1.0 1.2zM396.7 360.6l1.2 -1.4l1.2 1.4l-1.2 1.4zM401.5 333.6l1.3 -1.6l1.3 1.6l-1.3 1.6zM396.8 373.9l1.5 -1.7l1.5 1.7l-1.5 1.7zM432.3 381.3l1.2 -1.4l1.2 1.4l-1.2 1.4zM443.5 324.9l0.9 -1.0l0.9 1.0l-0.9 1.0zM401.1 378.8l1.4 -1.7l1.4 1.7l-1.4 1.7zM435.5 292.7l0.9 -1.1l0.9 1.1l-0.9 1.1zM434.8 299.1l0.8 -0.9l0.8 0.9l-0.8 0.9zM440.8 371.8l1.5 -1.8l1.5 1.8l-1.5 1.8zM439.6 313.1l1.7 -2.0l1.7 2.0l-1.7 2.0zM423.9 291.4l0.7 -0.9l0.7 0.9l-0.7 0.9zM399.0 355.7l0.7 -0.9l0.7 0.9l-0.7 0.9zM440.2 330.6l0.7 -0.9l0.7 0.9l-0.7 0.9zM442.1 322.3l0.8 -0.9l0.8 0.9l-0.8 0.9zM442.3 330.9l1.3 -1.5l1.3 1.5l-1.3 1.5zM443.3 322.8l1.5 -1.8l1.5 1.8l-1.5 1.8zM447.9 362.1l1.6 -2.0l1.6 2.0l-1.6 2.0zM413.3 389.7l1.2 -1.5l1.2 1.5l-1.2 1.5zM414.6 385.3l1.6 -2.0l1.6 2.0l-1.6 2.0zM446.1 360.3l1.2 -1.4l1.2 1.4l-1.2 1.4zM434.3 295.4l0.8 -1.0l0.8 1.0l-0.8 1.0zM444.9 352.1l1.0 -1.2l1.0 1.2l-1.0 1.2zM408.6 382.8l1.4 -1.7l1.4 1.7l-1.4 1.7zM398.6 382.3l1.1 -1.3l1.1 1.3l-1.1 1.3zM431.3 382.1l1.3 -1.6l1.3 1.6l-1.3 1.6zM395.8 314.6l1.6 -1.9l1.6 1.9l-1.6 1.9zM433.4 301.2l0.8 -1.0l0.8 1.0l-0.8 1.0z" fill="#b0f1f2"/>
<path d="M436.7 302.3l1.6 -1.9l1.6 1.9l-1.6 1.9zM427.8 388.2l0.9 -1.1l0.9 1.1l-0.9 1.1zM452.8 366.0l1.2 -1.5l1.2 1.5l-1.2 1.5zM434.9 308.5l1.0 -1.2l1.0 1.2l-1.0 1.2zM398.6 309.4l0.8 -1.0l0.8 1.0l-0.8 1.0zM424.9 295.2l1.0 -1.3l1.0 1.3l-1.0 1.3zM427.7 381.3l1.3 -1.5l1.3 1.5l-1.3 1.5zM399.9 368.9l1.0 -1.2l1.0 1.2l-1.0 1.2zM398.3 370.4l1.2 -1.5l1.2 1.5l-1.2 1.5zM442.4 366.2l1.7 -2.0l1.7 2.0l-1.7 2.0zM437.0 379.9l1.4 -1.7l1.4 1.7l-1.4 1.7zM395.8 324.9l1.1 -1.3l1.1 1.3l-1.1 1.3zM431.0 381.6l1.6 -2.0l1.6 2.0l-1.6 2.0zM446.8 387.9l1.6 -1.9l1.6 1.9l-1.6 1.9zM424.1 381.3l0.8 -1.0l0.8 1.0l-0.8 1.0zM443.7 348.9l1.1 -1.3l1.1 1.3l-1.1 1.3zM405.9 380.5l1.4 -1.7l1.4 1.7l-1.4 1.7zM449.1 373.2l1.5 -1.8l1.5 1.8l-1.5 1.8zM413.9 293.4l0.8 -1.0l0.8 1.0l-0.8 1.0zM408.8 300.1l1.1 -1.4l1.1 1.4l-1.1 1.4zM430.2 292.0l0.9 -1.1l0.9 1.1l-0.9 1.1zM441.1 314.1l1.1 -1.3l1.1 1.3l-1.1 1.3zM431.1 381.3l1.3 -1.6l1.3 1.6l-1.3 1.6zM441.8 384.7l0.8 -1.0l0.8 1.0l-0.8 1.0zM453.9 371.8l1.6 -1.9l1.6 1.9l-1.6 1.9zM448.5 359.0l1.4 -1.7l1.4 1.7l-1.4 1.7zM449.8 373.3l0.8 -1.0l0.8 1.0l-0.8 1.0zM414.3 296.0l1.7 -2.0l1.7 2.0l-1.7 2.0zM421.1 386.7l1.7 -2.0l1.7 2.0l-1.7 2.0zM462.9 376.9l1.0 -1.2l1.0 1.2l-1.0 1.2zM399.9 352.8l1.6 -1.9l1.6 1.9l-1.6 1.9zM399.2 363.9l1.3 -1.6l1.3 1.6l-1.3 1.6zM412.2 381.1l1.1 -1.4l1.1 1.4l-1.1 1.4zM433.5 383.2l1.1 -1.3l1.1 1.3l-1.1 1.3zM399.4 370.4l1.1 -1.3l1.1 1.3l-1.1 1.3zM399.0 332.6l0.8 -1.0l0.8 1.0l-0.8 1.0zM394.9 361.2l0.7 -0.8l0.7 0.8l-0.7 0.8zM445.2 356.6l1.4 -1.7l1.4 1.7l-1.4 1.7zM412.6 391.6l1.6 -1.9l1.6 1.9l-1.6 1.9zM417.1 386.8l1.1 -1.3l1.1 1.3l-1.1 1.3zM440.3 308.7l1.6 -1.9l1.6 1.9l-1.6 1.9z" fill="#fff48c"/>
<path d="M412.0 298.4 409.4 302.4 405.4 306.4 401.4 310.4 399.4 315.7 400.0 321.1 402.7 325.1 404.7 329.1 406.7 333.1 406.0 338.4 404.0 342.4 402.7 347.8 402.0 343.0 401.4 348.4 403.4 352.4 402.0 359.0 402.7 365.7 401.4 372.4 402.0 376.4 406.7 377.7 412.0 378.4 415.4 379.7 417.4 382.4 420.1 381.7 420.1 377.7 420.7 377.5 420.8 378.5 424.0 380.5 429.0 380.5 435.0 379.0 439.5 375.5 439.7 374.0 440.1 373.7 442.8 365.7 446.8 361.7 445.4 355.0 444.1 349.1 442.8 343.7 440.1 339.7 441.4 335.7 440.1 330.4 441.4 325.1 438.7 319.7 436.1 311.7 433.4 303.7 432.1 297.7 429.4 297.0 421.7 298.4 420.1 302.1 418.4 298.4 415.4 296.4Z" fill="#f5b048"/>
<path d="M425.0 378.5 426.5 375.0 428.5 373.5 429.5 376.5M430.5 377.5 432.5 374.0 434.0 371.0M435.0 376.5 437.0 373.0 438.5 370.0M428.0 371.5 431.0 370.0 434.5 369.0M438.0 378.0 439.5 374.0" fill="none" stroke="#fff3b0" stroke-width="0.9" stroke-linecap="round" stroke-linejoin="round"/>
<path d="M443.0 367.5 445.5 365.5 447.8 367.5 448.0 371.5 446.5 375.0 444.0 376.5 442.2 374.0 442.0 370.5Z" fill="none" stroke="#f4b45a" stroke-width="0.9"/>
<path d="M421.4 304.4 424.1 307.0 427.4 309.7 430.1 313.0 432.1 317.0 433.4 322.4 434.7 327.7 436.1 333.1 433.4 335.7 432.1 338.4 430.7 343.7 431.4 349.1 432.7 352.4 433.4 355.0 430.7 357.7 426.7 360.4 425.4 363.7 420.1 365.0 416.1 365.7 413.4 361.7 412.7 355.0 408.7 352.4 408.7 351.8 410.0 346.4 412.0 341.1 410.7 335.7 411.4 330.4 410.0 325.1 408.0 321.1 408.0 314.4 410.0 309.0 414.7 306.4 418.7 307.0Z" fill="#a443ab" stroke="#f3d9e6" stroke-width="0.7"/>
<path d="M420.7 319.7 424.1 323.7 426.7 329.1 428.1 333.1 426.7 336.4 424.7 339.7 422.7 342.4 420.7 339.7 418.7 334.4 417.4 327.7 417.4 322.4 418.7 320.4Z" fill="#f0505a" stroke="#f7dede" stroke-width="0.7"/>
<path d="M410.5 330.0 414.0 329.5 414.5 336.0 411.0 336.5ZM420.0 346.2 425.0 344.2 430.0 345.0 431.2 349.8 428.2 353.0 422.2 353.0 419.8 350.0Z" fill="#b870c4"/>
<path d="M433.5 344.2 436.8 343.6 439.8 346.8 438.2 350.0 434.2 349.2Z" fill="#ffe98a" opacity="0.85"/>
<path d="M442.8 360.4 436.1 365.7 429.4 367.0 422.7 369.7 420.1 373.7 412.0 377.1 406.7 377.7 402.7 375.7" fill="none" stroke="#b8720f" stroke-width="1.3"/>
</g>
<path d="M297.4 2.0 305.4 3.6 307.0 7.6 313.8 8.6 319.0 12.8 324.6 14.8 328.0 17.4" fill="none" stroke="#262626" stroke-width="3.3" stroke-linejoin="round" stroke-linecap="butt"/>
<path d="M321.0 0.4 316.6 6.0 313.8 8.6" fill="none" stroke="#262626" stroke-width="3.2" stroke-linejoin="round" stroke-linecap="butt"/>
<path d="M307.0 7.6 303.8 9.2 302.2 12.4 297.4 11.6" fill="none" stroke="#262626" stroke-width="3.1" stroke-linejoin="round" stroke-linecap="butt"/>
<path d="M330.2 18.8 335.0 17.2 343.0 16.4 351.0 14.8 353.8 15.2" fill="none" stroke="#262626" stroke-width="2.3" stroke-linejoin="round" stroke-linecap="butt"/>
<path d="M327.0 3.6 333.4 5.2 339.8 7.6 349.4 8.8" fill="none" stroke="#262626" stroke-width="2.0" stroke-linejoin="round" stroke-linecap="butt"/>
<path d="M331.8 22.4 339.8 23.2 346.2 25.6 351.0 26.4 355.0 30.4 357.6 34.4" fill="none" stroke="#262626" stroke-width="2.4" stroke-linejoin="round" stroke-linecap="butt"/>
<path d="M297.4 25.6 303.0 25.6 306.2 28.8 311.0 29.6 315.8 24.8 321.4 23.2 325.4 20.0 328.4 18.2" fill="none" stroke="#262626" stroke-width="3.6" stroke-linejoin="round" stroke-linecap="butt"/>
<path d="M329.8 42.8 325.4 44.0 321.4 46.0 315.0 44.8" fill="none" stroke="#262626" stroke-width="2.4" stroke-linejoin="round" stroke-linecap="butt"/>
<path d="M345.1 290.1 348.2 292.8" fill="none" stroke="#262626" stroke-width="2.2" stroke-linejoin="round" stroke-linecap="butt"/>
<path d="M354.5 293.2 352.8 297.2" fill="none" stroke="#262626" stroke-width="2.1" stroke-linejoin="round" stroke-linecap="butt"/>
<path d="M356.4 295.1 355.1 299.3" fill="none" stroke="#262626" stroke-width="2.1" stroke-linejoin="round" stroke-linecap="butt"/>
<path d="M358.3 297.2 357.2 300.8" fill="none" stroke="#262626" stroke-width="2.1" stroke-linejoin="round" stroke-linecap="butt"/>
<path d="M355.4 287.7 359.6 286.2 363.2 287.0" fill="none" stroke="#262626" stroke-width="2.1" stroke-linejoin="round" stroke-linecap="butt"/>
<path d="M297.4 2.0 305.4 3.6 307.0 7.6 313.8 8.6 319.0 12.8 324.6 14.8 328.0 17.4" fill="none" stroke="#fff" stroke-width="1.7" stroke-linejoin="round" stroke-linecap="round"/>
<path d="M321.0 0.4 316.6 6.0 313.8 8.6" fill="none" stroke="#fff" stroke-width="1.6" stroke-linejoin="round" stroke-linecap="round"/>
<path d="M307.0 7.6 303.8 9.2 302.2 12.4 297.4 11.6" fill="none" stroke="#fff" stroke-width="1.5" stroke-linejoin="round" stroke-linecap="round"/>
<path d="M330.2 18.8 335.0 17.2 343.0 16.4 351.0 14.8 353.8 15.2" fill="none" stroke="#fff" stroke-width="0.7" stroke-linejoin="round" stroke-linecap="round"/>
<path d="M327.0 3.6 333.4 5.2 339.8 7.6 349.4 8.8" fill="none" stroke="#fff" stroke-width="0.4" stroke-linejoin="round" stroke-linecap="round"/>
<path d="M331.8 22.4 339.8 23.2 346.2 25.6 351.0 26.4 355.0 30.4 357.6 34.4" fill="none" stroke="#fff" stroke-width="0.8" stroke-linejoin="round" stroke-linecap="round"/>
<path d="M297.4 25.6 303.0 25.6 306.2 28.8 311.0 29.6 315.8 24.8 321.4 23.2 325.4 20.0 328.4 18.2" fill="none" stroke="#fff" stroke-width="2.0" stroke-linejoin="round" stroke-linecap="round"/>
<path d="M329.8 42.8 325.4 44.0 321.4 46.0 315.0 44.8" fill="none" stroke="#fff" stroke-width="0.8" stroke-linejoin="round" stroke-linecap="round"/>
<path d="M345.1 290.1 348.2 292.8" fill="none" stroke="#fff" stroke-width="0.6" stroke-linejoin="round" stroke-linecap="round"/>
<path d="M354.5 293.2 352.8 297.2" fill="none" stroke="#fff" stroke-width="0.5" stroke-linejoin="round" stroke-linecap="round"/>
<path d="M356.4 295.1 355.1 299.3" fill="none" stroke="#fff" stroke-width="0.5" stroke-linejoin="round" stroke-linecap="round"/>
<path d="M358.3 297.2 357.2 300.8" fill="none" stroke="#fff" stroke-width="0.5" stroke-linejoin="round" stroke-linecap="round"/>
<path d="M355.4 287.7 359.6 286.2 363.2 287.0" fill="none" stroke="#fff" stroke-width="0.5" stroke-linejoin="round" stroke-linecap="round"/>
<path class="rl" d="M371.0 84.9 370.6 85.6 370.0 85.9M370.6 85.6 370.5 86.2M370.7 86.1 369.8 86.8 368.9 87.4 368.0 87.9 366.9 87.8M369.8 86.8 369.5 85.8 369.1 84.9M371.5 88.7 370.7 88.2 369.9 88.1M371.4 89.5 370.8 89.1 370.2 88.5 369.7 87.9M371.0 90.8 370.0 90.9 369.1 91.2 368.3 90.6M371.2 93.4 370.4 92.9 369.5 92.6 368.6 92.8 367.7 93.1M371.1 94.5 370.4 93.8 369.9 93.0 369.1 92.4 368.2 91.9M370.1 94.8 369.9 93.9 369.7 93.0 369.0 92.5 368.6 91.7M369.9 96.1 369.5 96.8 368.7 97.0M369.5 96.8 369.5 97.7M369.3 97.3 368.5 97.8 367.6 97.9 366.8 98.3M369.2 98.5 368.4 98.7 367.6 98.5M368.4 98.7 368.1 98.1M369.0 99.5 368.0 99.4 367.2 100.1 366.3 100.7 365.3 100.8M366.3 100.7 366.4 101.8 366.8 102.8M369.1 100.5 368.1 100.4 367.1 100.3M369.1 102.1 368.0 102.2 367.0 102.7 366.1 103.3M369.5 102.8 368.5 102.7 367.5 102.6M369.6 103.9 368.8 103.4 368.1 102.8 367.1 102.8 366.4 102.2M370.4 105.3 369.7 105.9 368.8 105.9 367.8 105.9 367.1 106.5M370.0 106.5 369.4 107.4 368.6 108.1 367.9 108.8 366.9 109.2M370.7 107.2 369.7 107.5 368.8 108.0 368.3 109.0 367.5 109.8M371.1 108.6 370.6 107.9 369.9 107.4 369.7 106.6 369.2 105.9M370.3 109.9 369.7 110.5 368.9 110.6M370.2 111.0 369.7 110.0 369.0 109.2 368.0 108.7 367.0 108.4M369.7 110.0 369.3 109.3 369.2 108.5 368.8 107.8M370.2 112.0 369.7 111.1 369.0 110.3 368.4 109.4 367.6 108.7M368.4 109.4 367.7 109.4 367.2 110.0 366.4 110.3M370.0 113.4 369.2 113.4 368.4 113.0M370.0 114.5 369.1 114.6 368.3 115.1M369.1 114.6 368.7 115.5M370.4 115.9 370.1 116.7 369.9 117.5M371.4 117.2 370.6 118.0 370.4 119.0 369.5 119.7M372.6 119.8 372.0 120.5 371.3 121.1 370.9 122.0 370.3 122.8M373.3 121.3 372.7 121.6 372.0 121.5M372.7 121.6 372.3 121.5M373.8 122.9 373.0 122.9 372.3 122.5 371.5 122.5M373.0 122.9 372.4 122.2M373.3 124.2 372.4 124.1 371.5 124.0 370.8 123.3 370.5 122.5M372.4 127.0 371.7 127.6 370.8 127.7M371.9 127.9 371.1 127.6 370.4 127.0M371.2 129.2 370.5 128.4 369.6 127.9 368.8 127.3 368.0 126.6M370.0 130.0 369.4 129.2 369.0 128.3 368.9 127.4 368.8 126.4M368.6 130.3 367.7 130.1 367.0 129.5 366.3 128.9M367.7 131.0 367.2 130.4 367.0 129.6M358.1 148.9 357.7 148.0 357.6 147.0 357.7 146.0 358.0 145.0M357.6 147.0 357.1 146.0 356.1 145.5M355.6 149.6 355.1 148.8 354.2 148.3 353.4 147.8M355.1 148.8 355.0 148.0 354.9 147.3M354.7 151.2 355.2 150.4 354.9 149.5 354.5 148.7 354.7 147.7M355.2 150.4 354.5 150.3 353.9 150.2M353.1 152.8 352.5 151.9 352.1 150.9 351.6 150.0 351.1 149.1 350.4 148.3M351.6 150.0 350.8 149.9 350.2 149.4M351.0 153.5 350.6 152.6 350.6 151.6 351.1 150.8 351.5 149.9M350.6 151.6 349.8 151.5 349.3 150.9 349.1 150.1M349.2 154.4 349.1 153.3 348.4 152.5 347.7 151.6 347.2 150.6 346.4 149.9M347.7 151.6 348.1 150.9 348.3 150.0M346.8 157.6 347.2 156.7 347.2 155.7 346.9 154.7M344.1 159.8 343.7 158.8 343.0 158.0 342.7 156.9 342.4 155.9 341.6 155.1M343.7 158.8 343.1 158.3 342.3 157.9 341.5 157.8M342.5 160.8 341.7 160.4 340.9 159.8 340.3 159.1 339.4 158.7M340.9 159.8 341.3 159.0 341.3 158.0M339.9 163.7 340.0 162.8 339.3 162.1 338.9 161.3 338.7 160.4 338.7 159.4M338.5 165.4 338.9 164.6 339.1 163.7 339.5 162.9 340.0 162.1 340.3 161.3M340.0 162.1 340.7 161.3 341.6 160.8M336.9 166.4 336.6 165.5 336.7 164.6 336.2 163.8 336.2 162.8 335.6 162.1M336.2 162.8 335.6 162.4 335.0 161.8 334.6 161.1M336.5 168.2 336.3 167.2 336.0 166.2 335.5 165.3M334.8 169.4 335.4 168.6 335.5 167.6 335.7 166.6 335.7 165.7 335.3 164.7M335.4 168.6 334.4 168.5 333.5 168.3M333.7 170.9 333.7 169.9 333.8 168.9 333.5 168.0 332.7 167.4M333.5 168.0 332.7 168.1 332.0 168.0M332.0 172.0 331.9 171.0 331.8 170.1 332.0 169.1 331.4 168.4 330.7 167.8M332.0 169.1 331.2 169.1 330.4 169.4M330.7 174.0 330.6 173.1 330.4 172.3 330.3 171.5 330.4 170.7M330.3 171.5 329.7 170.8 328.8 170.5M328.5 174.9 329.1 174.0 329.8 173.3 330.2 172.3 330.7 171.4M330.2 172.3 330.2 171.5 330.4 170.8 330.2 170.0M325.3 177.5 324.7 176.8 324.7 175.8 324.2 175.0 324.2 174.1 323.8 173.2M324.7 175.8 325.5 175.1 326.4 174.5M321.9 180.4 321.8 179.5 322.0 178.6 322.0 177.7 321.8 176.8 321.5 175.9M318.7 183.5 318.0 182.8 318.0 181.8 317.8 180.8 317.4 179.9M317.3 185.5 317.2 184.5 317.1 183.5 316.4 182.7 315.7 181.9M317.1 183.5 317.2 182.8 317.0 182.1M317.2 187.5 316.2 187.5 315.3 187.1 314.3 187.1M315.3 187.1 314.8 187.6 314.2 188.0M315.9 190.9 315.2 190.1 314.6 189.3 313.6 188.9M314.7 191.6 314.5 190.6 313.8 189.8 313.0 189.2 312.8 188.2 312.0 187.5M312.8 188.2 311.8 188.0 310.9 187.6 309.9 187.6M313.1 192.6 313.1 191.8 313.4 190.9 313.7 190.1 313.7 189.2M311.6 193.7 312.1 192.8 312.3 191.9 312.0 190.9 311.6 190.1 311.2 189.2M312.0 190.9 311.5 190.3 310.7 190.2M310.3 195.4 310.3 194.4 309.8 193.5 309.2 192.6M309.8 193.5 310.0 193.0 310.4 192.5M305.7 196.6 306.5 195.9 306.8 195.0 307.6 194.4 308.4 193.8M298.3 200.8 297.7 200.2 297.5 199.5M296.6 201.2 296.3 200.5 295.6 200.2 295.1 199.6M295.6 200.2 296.1 199.7M289.9 203.4 289.7 202.6 289.7 201.6 289.6 200.7M288.9 205.4 288.9 204.5 288.8 203.7 288.6 202.9 288.5 202.0M288.6 202.9 288.1 202.1 287.7 201.3M282.0 207.5 282.3 206.7 282.9 206.2 283.0 205.4M278.9 209.0 277.9 209.1 277.0 208.7M276.4 208.2 276.6 207.2 276.3 206.2 276.3 205.2M276.3 206.2 277.0 206.0 277.6 205.7M272.0 211.4 271.2 211.0 270.4 210.8 269.7 210.3M270.4 210.8 269.8 210.6 269.2 210.3M266.3 213.7 265.4 213.2 264.6 212.6 263.8 212.0M264.6 214.8 264.3 214.0 263.9 213.2 263.6 212.4M263.9 213.2 263.3 213.2 262.6 213.2M258.6 210.5 259.0 209.7 259.3 209.0 259.8 208.3M255.5 213.0 255.2 212.3 255.1 211.5 254.8 210.7M255.2 212.3 255.1 211.2M255.1 214.5 254.3 214.9 253.7 215.4 253.1 216.1 252.6 216.7M254.3 214.9 253.4 214.4 252.8 213.7M253.2 218.9 253.2 218.1 253.3 217.3 253.0 216.5M252.1 220.0 251.2 219.4 250.2 219.4 249.2 219.5M251.2 219.4 251.2 218.7 250.9 218.0M250.1 220.6 250.3 219.6 249.7 218.7 249.2 217.8 248.5 217.0 248.2 216.0M248.5 217.0 247.5 217.2 246.5 217.1M246.8 221.2 246.1 220.7 245.5 220.0 244.7 219.5M245.0 222.3 244.4 221.5 243.9 220.7 243.2 220.0 243.0 219.0M244.4 221.5 243.5 221.4 242.5 221.3M244.4 223.8 245.1 223.3 245.8 223.8 245.1 224.3 244.4 223.8M243.4 221.6 242.4 221.3 241.8 220.4 241.2 219.4 240.8 218.4 240.5 217.4M241.5 222.5 240.6 222.2 240.0 221.4 239.2 220.9 238.6 220.2 238.1 219.3M238.6 220.2 238.0 220.9 237.6 221.7 236.8 222.3M240.2 222.0 239.4 221.8 238.9 221.2 238.2 220.9M238.2 221.0 238.5 220.1 239.1 219.4 239.3 218.4 239.4 217.4 240.3 216.9M239.3 218.4 238.3 218.0 237.2 217.7M234.4 221.5 235.0 220.7 235.4 219.8 235.4 218.9M235.4 219.8 235.1 219.1 234.9 218.3M233.6 222.2 234.1 221.9 234.6 222.2 234.1 222.5 233.6 222.2M232.8 221.0 233.9 220.8 234.9 220.6M233.9 220.8 234.2 219.8M231.9 219.8 232.1 219.0 232.3 218.3 232.8 217.7M223.1 231.9 223.0 231.1 222.5 230.6M221.4 232.6 220.5 232.7 219.9 232.2M214.9 237.9 214.2 237.5 213.5 237.5M208.6 250.5 208.3 249.7 207.8 249.1M207.8 252.1 207.2 251.8 206.5 251.8M207.2 251.8 206.6 251.3M210.4 251.6 209.4 251.6 208.4 251.6 207.4 251.5 206.5 251.2M208.4 251.6 207.7 251.3 207.0 251.1M210.3 255.1 209.4 254.9 208.5 254.4 207.7 254.0M208.8 256.6 208.0 256.1 207.2 255.7M208.1 257.8 207.7 257.1 207.2 256.5M207.3 259.6 206.8 259.0 206.8 258.2 206.5 257.5M208.0 260.9 208.8 260.4 209.6 260.9 208.8 261.5 208.0 260.9M206.1 260.7 206.1 259.8 205.8 259.0 205.1 258.4 205.1 257.5M204.8 262.2 204.5 261.5 204.1 260.7M203.8 263.0 203.2 262.5 202.5 262.1 202.0 261.6M202.8 266.3 201.9 266.5 201.1 266.0 200.1 266.0M199.5 271.8 199.0 271.0 198.8 270.1 198.1 269.6M197.8 272.7 197.1 272.0 196.4 271.4 195.8 270.6M196.1 275.7 195.3 275.8 194.5 275.8 193.9 275.3M195.3 275.8 194.4 275.9M197.1 277.0 197.8 276.5 198.4 277.0 197.8 277.4 197.1 277.0M195.3 276.9 194.4 276.8 193.7 276.2 192.8 276.1 192.0 275.5M194.4 276.8 194.6 275.7 194.4 274.7M195.7 277.6 196.3 277.2 196.9 277.6 196.3 278.0 195.7 277.6M193.8 278.1 193.0 277.8 192.4 277.2 191.6 276.9M193.1 279.6 192.5 278.9 191.8 278.4 190.9 278.3M191.7 280.5 191.1 279.9 190.7 279.1M189.8 282.9 188.7 282.9 187.6 282.8 186.5 282.7M188.4 283.7 187.9 282.8 187.0 282.4M187.9 282.8 188.3 281.8M187.6 285.3 186.9 284.9 186.5 284.2 185.9 283.6M185.9 285.9 185.4 285.3 185.3 284.6 185.1 283.8M184.5 286.1 185.3 285.5 186.1 284.8M183.1 286.3 182.5 285.7 181.8 285.3M182.5 285.7 182.7 284.9M180.8 289.0 179.9 288.7 179.2 288.2M175.7 295.3 174.8 294.8 174.6 293.8 174.0 293.1 173.2 292.4 172.6 291.6 172.1 290.7 171.3 290.1 170.9 289.2 170.7 288.2M172.1 290.7 171.1 290.6 170.2 290.1 169.3 289.6 168.3 289.2M174.9 296.3 174.1 296.2 173.4 295.7 172.8 295.0 172.5 294.2M174.1 296.2 173.3 296.7 172.3 296.9M173.6 297.0 174.0 296.1 174.1 295.0 174.7 294.2 174.4 293.2M172.4 298.1 171.6 297.8 170.7 297.9 169.9 297.4 169.2 296.8 168.5 296.2M169.2 296.8 168.6 295.9 168.3 294.9M171.7 299.1 171.7 298.1 171.6 297.1 171.5 296.1 171.0 295.2 170.3 294.6 170.2 293.6M171.7 298.1 172.3 297.4 172.7 296.6M170.8 300.4 171.1 299.4 170.8 298.5 170.6 297.5 170.4 296.6 169.9 295.7 169.9 294.7M171.1 301.5 171.9 300.9 172.7 301.5 171.9 302.1 171.1 301.5M169.0 302.3 168.1 302.0 167.1 301.8 166.3 301.2 165.4 301.0 164.4 300.9 163.7 300.2 162.7 300.0 161.8 299.7M168.1 302.0 167.3 301.4 167.2 300.5 167.3 299.5 166.8 298.8M167.6 302.7 166.5 302.6 165.4 302.8 164.4 302.5 163.6 301.9 162.7 301.2 161.7 301.0 160.7 301.3 159.7 300.8 158.7 301.0M161.7 301.0 161.9 300.0 161.4 299.2 161.5 298.3 162.0 297.4 161.6 296.6 161.7 295.6M167.2 304.7 166.8 303.9 166.4 303.2 166.7 302.4 166.8 301.6M166.4 303.2 167.0 302.6 167.9 302.3M166.4 305.7 165.3 305.9 164.2 305.9 163.2 305.5 162.2 305.7 161.1 305.4 160.2 304.8 159.1 304.6 158.2 304.0M164.8 306.4 164.6 305.3 164.2 304.3 163.9 303.2 164.3 302.2 164.0 301.2 164.1 300.1 163.9 299.0 164.1 298.0 163.8 296.9M164.0 301.2 165.1 300.9 165.9 300.3 167.0 300.0 167.7 299.2 168.6 298.7M163.6 306.9 163.5 305.8 163.4 304.8 163.4 303.7 162.9 302.7 162.3 301.8 162.3 300.8 162.3 299.7 161.5 299.0M162.9 302.7 162.1 302.5 161.2 302.7 160.3 303.0 159.4 303.0 158.5 303.2M163.5 308.4 163.4 307.4 163.7 306.4 163.4 305.5 162.9 304.6 162.6 303.6 162.5 302.6 162.4 301.6 162.6 300.6 162.7 299.6M163.4 307.4 163.4 306.4 163.8 305.4 164.6 304.6 165.3 303.9 166.3 303.3M163.8 309.3 164.4 309.0 164.9 309.3 164.4 309.7 163.8 309.3M162.2 309.6 162.6 308.6 162.6 307.5 163.0 306.5 163.0 305.4 162.9 304.3M162.3 310.4 163.0 309.9 163.7 310.4 163.0 310.9 162.3 310.4M160.6 309.7 159.8 309.2 158.9 308.8 157.9 308.6 157.0 308.3M157.9 308.6 157.5 307.7 157.7 306.8M159.5 309.9 158.9 309.0 158.0 308.4 157.8 307.4M158.4 311.3 158.3 310.3 158.8 309.3 159.1 308.3 159.5 307.3 160.3 306.5 160.5 305.5 161.2 304.7 161.4 303.6M158.8 309.3 158.3 308.4 157.7 307.6 157.0 306.9 156.2 306.3M157.7 312.4 158.6 311.8 159.5 312.4 158.6 313.0 157.7 312.4M155.3 310.5 155.2 309.5 154.6 308.7 154.9 307.8 155.3 306.8 155.2 305.8M154.0 312.1 154.7 311.6 155.4 312.1 154.7 312.6 154.0 312.1M154.0 309.2 153.3 308.5 152.5 307.9 152.2 306.9 151.9 306.0 151.4 305.2 151.0 304.3 151.0 303.3 150.8 302.3M151.4 310.0 152.3 309.4 153.2 310.0 152.3 310.7 151.4 310.0M151.2 309.0 151.7 308.0 152.0 307.0 153.1 306.7 154.2 306.5 155.2 306.1 156.2 305.7 157.1 305.1M150.0 310.0 150.6 309.6 151.1 310.0 150.6 310.4 150.0 310.0M141.6 308.0 141.4 307.2 141.4 306.4 141.0 305.7M141.4 306.4 140.8 306.5 140.2 306.6M136.2 308.8 135.8 308.0 135.2 307.4M134.3 311.4 133.8 310.9 133.4 310.2 133.3 309.5M128.9 305.7 129.1 304.8 129.8 304.2 130.3 303.5 131.1 303.1M127.3 306.8 126.8 306.1 126.4 305.3M125.4 306.9 124.5 306.2 124.3 305.2 123.7 304.3M124.3 308.7 123.4 308.3 122.6 308.0M122.9 309.2 122.4 308.4 122.0 307.5M121.6 311.8 120.8 312.0 119.9 311.9 119.1 312.3 118.4 312.7M121.8 313.6 121.9 314.4 122.0 315.2 122.1 316.0M121.9 314.4 122.3 314.8 122.7 315.2M126.7 318.3 125.8 318.1 124.9 318.3M125.8 318.1 125.7 317.5 125.8 317.0M125.9 321.2 125.1 321.5 124.4 321.9 123.7 322.4M125.1 321.5 124.9 322.1 124.3 322.5M125.0 322.4 124.2 322.5 123.4 322.7 122.6 322.9 121.9 322.4M122.9 325.1 122.5 324.1 121.6 323.6 120.5 323.5M121.6 323.6 122.1 322.9M117.3 328.8 117.1 327.8 117.4 326.9 117.3 326.0M115.1 328.4 114.8 327.7 114.5 326.9M112.6 329.8 111.8 329.4 111.4 328.6 110.6 328.2M111.6 330.1 111.0 329.2 110.5 328.2 109.5 327.8M112.3 331.4 111.4 331.8 110.5 332.1 110.1 333.0 109.2 333.3M113.0 334.6 111.9 334.5 110.8 334.4 109.9 334.9M110.8 334.4 110.0 333.9 109.2 333.4M113.3 336.0 112.9 336.9 112.1 337.6M112.9 336.9 112.5 337.9M113.9 337.4 113.0 336.7 112.3 335.9M113.0 336.7 112.3 336.3M114.2 338.6 113.3 338.8 112.4 339.1 111.5 339.3M113.3 338.8 112.4 339.3M116.1 339.7 115.2 339.6 114.3 339.5 113.4 339.5M115.6 342.7 115.0 342.0 114.2 341.5 113.3 341.6 112.4 341.8M116.6 343.7 116.0 344.3 115.3 344.6M116.9 346.3 116.8 345.6 116.4 345.0 115.8 344.5M116.8 345.6 116.7 344.8M116.5 347.8 115.7 348.4 114.7 348.5 113.7 348.5M115.6 349.0 114.7 348.9 113.8 348.5 113.2 347.8 112.6 347.1M112.9 352.5 112.9 351.5 112.9 350.5 112.2 349.7M112.4 354.4 111.6 354.4 110.8 354.3 110.0 354.2M116.9 341.6 116.1 341.0 115.1 341.0 114.1 341.2 113.1 341.0 112.2 340.4 111.3 340.2 110.3 339.8 109.3 339.6 108.6 338.9M117.5 342.7 118.1 342.2 118.8 342.7 118.1 343.2 117.5 342.7M117.7 345.6 116.8 345.0 116.0 344.3 115.3 343.4 114.2 343.5 113.1 343.5 112.1 343.8 111.1 343.3 110.0 343.2 109.2 342.4 108.1 342.1M117.1 347.3 116.5 346.5 115.6 346.1 114.8 345.5 114.1 344.9 113.3 344.3 112.4 344.1M116.4 348.8 115.6 348.1 114.6 347.8 113.6 347.4 112.6 347.3 111.7 346.8M115.8 350.5 115.2 349.6 115.0 348.6 115.1 347.5 114.9 346.5 114.5 345.5 113.7 344.7 112.9 344.0M115.2 349.6 114.3 349.4 113.8 348.7 113.0 348.3 112.1 348.1 111.2 348.0M113.1 352.4 113.1 351.3 112.4 350.5 112.4 349.5 112.3 348.4 112.4 347.3 111.9 346.4 111.4 345.5 111.1 344.4 110.4 343.7 109.9 342.7M111.1 344.4 112.0 343.8 113.0 343.6 113.9 343.2 114.8 342.5 115.2 341.6 116.1 341.1M112.4 353.4 111.7 352.6 111.1 351.7 110.5 350.7 109.6 350.0M111.7 352.6 110.8 352.6 110.1 353.0 109.3 353.2M112.8 354.6 111.9 354.3 111.0 354.5 110.2 354.7 109.5 355.3 108.8 355.9M113.0 354.5 113.7 353.9 114.5 354.5 113.7 355.0 113.0 354.5M112.7 356.2 111.8 355.5 111.2 354.6 110.9 353.6 110.5 352.6 109.5 352.3 108.6 351.8 107.5 351.6 107.0 350.7 106.4 349.8M109.5 352.3 109.5 351.4 110.0 350.6 110.0 349.6 110.4 348.8 110.5 347.9 111.0 347.1M113.7 355.9 114.5 355.4 115.3 355.9 114.5 356.5 113.7 355.9M112.4 357.3 111.9 356.4 111.4 355.6 110.6 355.0 109.6 354.7M111.4 355.6 111.1 354.7 111.0 353.8M112.6 358.4 112.1 357.5 111.9 356.5 111.6 355.6 110.8 355.0 110.2 354.1 110.1 353.1 109.6 352.2 109.4 351.2 108.7 350.5 108.5 349.5M110.8 355.0 110.1 355.4 109.2 355.7 108.4 355.9 107.6 356.2M112.0 359.9 111.6 359.1 110.9 358.4 110.1 357.7 109.7 356.8 109.1 356.0 108.4 355.4M110.1 357.7 110.6 357.0 111.0 356.2 111.4 355.5M111.1 360.7 111.5 359.7 111.6 358.7 112.0 357.7 111.7 356.6 111.1 355.7 110.9 354.7 110.5 353.7 110.5 352.6 110.3 351.6 110.6 350.6M111.7 356.6 112.1 355.8 112.4 354.8 112.9 354.0 113.3 353.1 113.8 352.2 114.4 351.4M109.7 361.3 109.1 360.4 108.1 360.0 107.4 359.1 106.9 358.1 105.9 357.7 105.1 357.0 104.2 356.4 103.3 355.8 102.2 355.5M110.2 362.7 109.2 362.8 108.2 362.9 107.3 362.5 106.4 362.0 105.4 362.0 104.3 362.1M108.2 362.9 107.7 362.0 107.2 361.2M111.6 361.8 112.2 361.3 112.9 361.8 112.2 362.2 111.6 361.8M111.6 363.7 110.8 364.4 109.7 364.4 108.6 364.1 107.5 364.0 106.4 364.1 105.4 364.2 104.3 364.3 103.2 364.2 102.3 364.8M112.4 365.0 111.3 365.2 110.4 365.7 109.4 366.0 108.6 366.7 107.6 367.2M108.6 366.7 108.4 365.9 107.9 365.4M114.1 366.5 114.6 366.1 115.0 366.5 114.6 366.8 114.1 366.5M113.7 368.1 114.2 367.8 114.8 368.1 114.2 368.5 113.7 368.1M111.7 369.0 110.7 368.5 109.7 368.1 108.6 368.0 107.5 367.9 106.4 368.0M108.6 368.0 108.3 367.0 108.4 365.9 108.6 364.9M113.2 371.9 113.9 371.4 114.6 371.9 113.9 372.4 113.2 371.9M109.4 372.2 109.4 371.2 109.2 370.2 109.5 369.2 109.7 368.2 109.9 367.2 110.0 366.2 110.2 365.2 110.4 364.2 110.7 363.3M110.0 366.2 109.3 365.5 108.3 365.2 107.3 365.3 106.3 365.3M109.1 373.8 108.2 373.6 107.3 373.6 106.4 373.4 105.7 372.8 105.3 372.0M108.2 373.6 107.2 373.3 106.2 372.9M108.0 374.9 107.0 374.7 106.0 374.5 105.1 374.2 104.2 373.9 103.2 373.8 102.5 373.1 101.7 372.6 100.7 372.5M103.2 373.8 102.6 374.5 101.8 375.0 101.4 375.8M108.5 375.1 108.9 374.9 109.3 375.1 108.9 375.4 108.5 375.1M107.5 375.7 106.7 375.0 106.2 374.0 105.3 373.4 104.3 373.2 103.2 373.0 102.2 372.9M103.2 373.0 103.0 372.3 102.7 371.5 102.9 370.7M107.2 377.0 106.3 376.3 105.3 376.1 104.2 375.8 103.1 375.7 102.3 375.0 101.8 374.1 101.0 373.4 100.0 372.9M107.0 378.5 107.0 377.6 106.3 376.9 105.5 376.5 104.6 376.0 104.3 375.1 104.2 374.2 104.0 373.2M105.5 376.5 104.6 376.9 103.7 376.9 102.8 377.1 102.0 376.7M106.5 379.9 105.5 379.4 104.8 378.7 104.4 377.6 104.3 376.6 103.6 375.7 102.7 375.0 101.7 374.7 101.0 373.9 100.3 373.0 99.4 372.4M106.6 381.9 106.3 380.8 105.4 380.2 104.8 379.3 103.9 378.7 103.4 377.7 102.8 376.8 102.5 375.7M105.9 383.1 106.5 382.6 107.2 383.1 106.5 383.6 105.9 383.1M104.3 383.9 103.4 383.5 102.4 383.2 101.5 382.8 100.8 382.1 100.5 381.1M103.4 383.5 103.6 382.4 103.0 381.5M104.1 385.2 103.6 384.6 103.0 383.9 102.3 383.4 101.5 383.1M103.0 383.9 102.0 384.3M103.0 388.5 102.4 387.6 102.4 386.6 102.5 385.6 101.8 384.8 101.8 383.8M103.9 389.2 104.4 388.8 104.9 389.2 104.4 389.5 103.9 389.2M101.0 390.4 100.5 389.5 99.8 388.7 99.0 388.0 98.0 387.7 97.4 386.9 97.0 385.9 96.5 385.0 96.0 384.1 95.4 383.2M100.3 392.1 100.3 391.0 99.8 390.0 99.4 389.0 99.3 388.0 98.5 387.2M100.3 391.0 99.3 390.7 98.3 390.6M99.9 393.8 99.2 392.9 98.3 392.3 97.4 391.8 96.6 391.1 95.8 390.3 95.0 389.7 94.3 388.9 93.8 387.9M97.4 391.8 97.3 390.8 97.7 390.0 98.0 389.2 97.9 388.3 98.2 387.4M98.0 394.6 97.8 393.5 97.4 392.5 97.3 391.5 96.6 390.7 95.6 390.2 94.9 389.4 94.7 388.4 94.2 387.4 93.5 386.6 92.8 385.9M97.1 395.6 97.4 394.6 97.0 393.7 96.8 392.6 96.8 391.5 96.5 390.5 96.0 389.6 95.2 388.9 94.6 388.0 94.6 386.9 94.7 385.8M95.6 398.3 95.4 397.3 94.9 396.6 94.3 395.9 94.5 394.9 94.1 394.1 93.6 393.3M94.4 399.0 93.6 398.5 92.7 397.9 92.5 396.9 92.0 396.1 91.7 395.1 90.9 394.5 90.6 393.5M93.6 398.5 93.9 397.6 94.1 396.6 94.6 395.8M94.6 399.7 95.2 399.3 95.8 399.7 95.2 400.2 94.6 399.7M94.4 400.7 94.1 399.6 94.1 398.6 93.5 397.7 93.4 396.7 92.5 396.1 91.8 395.4M95.1 402.1 95.8 401.6 96.6 402.1 95.8 402.7 95.1 402.1M93.0 401.5 92.6 400.7 91.9 400.2 91.1 399.9 90.2 399.7M91.9 402.6 91.9 401.5 92.1 400.5 91.8 399.4 91.0 398.7 90.8 397.7 90.8 396.6 90.3 395.6 89.4 395.0 88.4 394.6M91.1 404.1 90.6 403.2 90.1 402.3 89.2 401.7 88.5 401.0 87.6 400.6 86.9 399.9 86.2 399.2 85.3 398.7M91.5 404.7 92.3 404.2 93.0 404.7 92.3 405.2 91.5 404.7M90.5 405.2 89.7 404.7 89.2 403.9 88.4 403.6 87.5 403.5 86.6 403.4M90.6 407.3 91.3 406.8 92.0 407.3 91.3 407.8 90.6 407.3M89.9 408.4 89.1 408.0 88.3 407.7 87.3 407.6 86.7 407.0M88.3 407.7 88.2 407.1 88.3 406.5M90.6 408.7 91.0 408.4 91.5 408.7 91.0 409.0 90.6 408.7M89.1 409.8 88.7 409.1 88.6 408.2 88.4 407.4 88.1 406.6M88.6 408.2 88.6 407.5 88.7 406.8M92.1 401.8 91.1 401.5 90.1 401.2 89.0 401.1 88.0 401.1 87.0 400.7 86.0 400.5 85.0 400.0 84.2 399.3M91.6 403.8 91.0 403.0 90.4 402.2 89.5 402.0 88.6 401.8 87.6 401.9 86.9 401.2M88.6 401.8 88.8 400.9 88.9 400.0 88.7 399.2M92.2 404.1 93.0 403.5 93.9 404.1 93.0 404.7 92.2 404.1M91.2 405.5 90.3 405.2 89.3 405.0 88.4 404.8 87.4 404.9 86.5 404.6 85.6 404.1M90.5 407.1 89.7 407.8 88.7 408.0 87.6 408.2 86.7 408.8 85.6 408.6M91.6 408.6 92.4 408.0 93.3 408.6 92.4 409.2 91.6 408.6M91.3 410.2 90.3 410.0 89.3 410.4 88.3 410.8 87.2 410.5 86.2 410.8 85.2 411.3M92.1 411.9 91.1 411.6 90.0 411.3 89.0 410.9 88.0 410.6 87.0 410.8 86.0 410.3 85.2 409.7 84.2 409.3 83.1 409.1 82.1 408.7M85.2 409.7 84.5 410.4 83.7 411.0 82.8 411.4 81.9 411.8 81.0 412.0 80.3 412.7M90.9 413.9 90.0 413.6 89.2 412.9 88.9 412.0 88.1 411.5 87.7 410.6 86.8 410.2M88.9 412.0 88.6 411.3 88.2 410.7 88.1 410.0M90.5 415.5 89.8 414.9 88.9 414.5 87.9 414.4 86.9 414.2 86.0 413.9 85.2 413.3 84.5 412.6 83.5 412.4M89.6 417.0 88.7 417.3 87.6 417.2 86.7 416.8 85.7 416.7 84.8 416.3 83.9 415.8 82.9 415.8 82.0 415.3 81.3 414.6M82.9 415.8 82.1 415.1 81.9 414.2 82.0 413.2 81.6 412.3M90.1 418.9 89.1 419.2 88.2 419.6 87.2 419.6 86.3 420.1 85.5 420.7 84.4 420.6 83.4 420.7 82.5 421.2 81.6 421.4M90.0 420.3 89.0 420.6 87.9 420.7 86.9 421.0 85.8 421.2 84.9 421.8 83.9 421.7M84.9 421.8 84.5 422.8 83.7 423.5 83.6 424.5M90.4 421.8 89.5 422.2 88.5 422.4 87.6 422.7 86.6 422.7 85.6 422.6 84.6 422.8 83.8 423.4 82.9 423.9 82.0 424.1M87.6 422.7 86.9 423.6 86.2 424.4 85.7 425.3 85.5 426.4M90.8 423.8 90.1 424.5 89.2 425.0 88.2 424.9 87.3 425.2 86.5 425.9 85.9 426.7 85.3 427.5 84.5 428.2 83.7 428.8 83.1 429.6 82.3 430.3 81.8 431.1M87.3 425.2 87.0 426.2 87.2 427.1 87.7 428.0 87.6 429.0 87.0 429.8M91.2 425.5 90.4 425.1 89.4 425.1 88.5 425.0 87.5 424.8 86.7 424.3 85.7 424.2 84.8 424.3M90.5 427.2 89.5 426.9 88.5 426.6 87.5 426.1 86.8 425.2 86.0 424.6M86.8 425.2 87.0 424.2 86.8 423.2 86.9 422.2M89.8 430.5 89.1 429.7 88.5 428.9 87.5 428.7 86.8 428.0 86.1 427.3 85.7 426.4 85.2 425.6 84.4 425.0 83.8 424.2 82.8 423.9 82.2 423.1M88.8 433.6 88.1 432.9 87.3 432.2 86.4 431.7 85.5 431.2 84.7 430.6 83.7 430.3 82.7 430.1 81.7 429.8 81.0 429.1 80.0 428.8 79.4 428.0M81.7 429.8 80.8 430.4 80.0 431.1 79.3 432.0 78.5 432.7M87.2 434.3 86.5 433.6 85.9 432.9 85.4 432.0 85.0 431.2 84.5 430.3 83.9 429.5 83.2 428.9M88.6 435.4 89.0 435.2 89.4 435.4 89.0 435.7 88.6 435.4M86.6 436.2 85.6 436.0 84.6 435.7 83.5 435.5 82.5 435.5 81.6 435.1M85.6 436.0 85.8 435.3 86.3 434.7 86.7 434.0M86.5 437.9 85.6 437.5 85.0 436.7 84.4 435.9 83.5 435.3 82.8 434.6 81.8 434.5 81.2 433.7 80.2 433.5 79.2 433.2 78.2 432.9M79.2 433.2 78.5 434.0 78.0 434.9 77.4 435.8 76.6 436.4M85.2 439.5 84.3 439.1 83.4 438.6 82.5 438.2 81.6 437.9 80.6 438.0 79.6 437.6 78.6 437.5 77.7 437.3 76.7 437.5M84.3 439.1 83.7 438.3 82.9 437.6 82.6 436.6 82.8 435.6M85.3 441.6 84.6 440.9 83.6 440.5 82.7 440.1 82.0 439.4 81.1 439.0 80.1 438.8 79.1 438.4M85.1 443.2 84.1 443.6 83.1 443.6 82.1 444.0 81.0 444.1 80.0 444.2M82.1 444.0 81.4 444.5 80.6 444.9 80.1 445.7M84.8 447.1 84.2 446.3 83.6 445.5 83.0 444.7 82.1 444.3 81.5 443.4 80.6 443.1 80.1 442.2 79.7 441.3 79.1 440.5 78.2 440.0M79.7 441.3 78.8 441.3 78.1 441.7 77.2 441.7 76.4 442.0M85.5 447.4 86.0 447.0 86.6 447.4 86.0 447.8 85.5 447.4M83.9 448.3 83.2 447.5 82.4 446.8 81.4 446.5 80.4 446.2 79.4 446.0 78.4 446.0 77.4 445.6 76.5 445.2M77.4 445.6 77.4 444.7 77.4 443.8 77.4 442.9 77.0 442.0 76.7 441.1M83.1 449.7 82.6 448.9 81.7 448.4 80.7 448.3 79.7 448.0 79.1 447.2 78.6 446.4M82.2 453.6 81.3 453.1 80.4 452.6 79.3 452.3 78.3 452.2 77.2 452.2 76.2 452.1 75.1 452.4M77.2 452.2 76.4 451.6 75.8 450.7 74.9 450.1M83.0 455.3 82.0 454.9 81.0 454.9 79.9 455.1 78.9 455.3 77.8 455.0 77.2 454.2 76.1 454.0 75.3 453.4M82.4 457.2 81.3 457.0 80.3 456.8 79.4 456.3 78.4 456.0 77.4 455.6 76.4 455.4 75.4 455.6 74.3 455.9 73.4 455.4 72.4 455.7 71.4 455.4M82.2 458.9 81.5 458.1 80.6 457.7 79.9 456.9 78.9 456.7 78.3 455.9 77.9 454.9 77.2 454.2 76.2 453.9 75.2 453.6 74.4 453.0 73.4 452.8 72.4 452.5M80.6 457.7 80.7 456.7 80.5 455.7 80.5 454.7 80.0 453.8 79.9 452.8 79.5 451.9 79.5 450.8M79.7 461.8 78.7 461.5 77.7 461.1 76.9 460.3 76.1 459.6 75.2 458.9 74.5 458.1 73.5 457.7M80.4 462.3 80.8 462.0 81.2 462.3 80.8 462.6 80.4 462.3M79.2 464.1 80.1 463.5 80.9 464.1 80.1 464.7 79.2 464.1M77.4 465.1 76.5 464.5 75.7 463.8 75.0 463.0 74.7 462.0 74.2 461.0 73.4 460.3 72.9 459.3 72.1 458.6 71.4 457.8 70.5 457.2 69.7 456.5 69.0 455.7M69.7 456.5 69.7 455.5 69.5 454.6 68.9 453.9 68.5 453.1 67.9 452.3M76.4 469.7 75.6 470.3 74.6 470.5 73.7 470.8 72.7 470.5 71.8 470.3 70.8 470.4 69.8 470.2 69.0 470.6 68.0 470.8 67.0 471.1M68.0 470.8 67.6 471.7 67.4 472.6 66.8 473.3 66.0 473.9 65.2 474.4 64.6 475.2M77.8 469.9 78.3 469.6 78.7 469.9 78.3 470.2 77.8 469.9M77.0 471.9 76.0 471.6 75.0 471.4 74.2 470.8 73.6 470.0 73.1 469.1 72.3 468.4 71.3 468.1 70.3 468.0 69.5 467.3 68.5 467.0 67.8 466.2 67.4 465.3M73.6 477.7 73.1 476.8 72.4 476.0 71.7 475.1 71.1 474.3 70.5 473.4 69.9 472.5 69.1 471.7M71.7 475.1 70.8 475.3 69.9 475.4 69.0 475.2M72.6 478.2 72.0 477.3 71.7 476.3 71.0 475.5 70.9 474.5 70.9 473.4 70.8 472.4 71.0 471.3 70.4 470.4 69.9 469.5 69.6 468.5M72.3 479.4 71.6 478.8 70.6 478.4 69.8 477.8 69.0 477.2M70.7 479.1 69.9 478.4 68.8 478.2 67.8 478.2 66.7 478.2 65.7 478.0 64.8 477.3 63.9 476.9M64.8 477.3 63.9 477.1 62.9 477.2 62.0 477.5M70.1 480.2 69.3 479.8 68.6 479.1 68.1 478.4 67.2 478.1 66.3 477.8M69.2 480.8 68.6 479.9 67.5 479.7 66.7 479.0 65.7 478.5 64.8 478.1 63.8 477.7 62.8 477.3 61.7 477.2 60.7 476.9M69.1 481.9 69.8 481.4 70.4 481.9 69.8 482.3 69.1 481.9M68.1 481.1 68.1 480.1 67.7 479.2 67.6 478.2 67.4 477.2 67.3 476.2 67.1 475.2 67.2 474.2 67.5 473.3 67.8 472.3M68.1 480.1 69.0 479.6 69.4 478.7 70.3 478.1M67.4 481.1 67.3 480.1 67.2 479.1 66.9 478.1 66.7 477.2 66.9 476.2 66.3 475.3 65.9 474.5M66.8 482.4 66.0 481.7 65.3 480.8 64.3 480.4 63.5 479.7M66.0 481.7 65.9 480.6 65.4 479.6M65.6 481.5 64.9 480.8 64.5 479.8 64.3 478.8 64.1 477.8 63.7 476.8 63.8 475.8 63.9 474.7 63.4 473.8 63.0 472.9M64.4 481.7 63.8 480.9 63.2 480.1 62.9 479.2 62.7 478.2 63.0 477.2M63.2 482.0 62.9 481.1 62.8 480.1 62.5 479.1 62.1 478.2 62.2 477.2 61.8 476.2 62.0 475.3 62.1 474.2 61.7 473.3 61.8 472.3 62.4 471.5M62.6 480.2 63.1 479.3 63.2 478.2 63.2 477.1 63.6 476.1 63.6 475.0 64.2 474.1 65.2 473.7M61.2 480.9 61.1 479.9 61.4 478.9 61.3 477.8 60.6 477.0M61.4 478.9 61.6 478.1 61.7 477.2 62.4 476.7M60.2 482.2 60.7 481.8 61.2 482.2 60.7 482.5 60.2 482.2M60.2 479.9 61.0 479.4 61.5 478.5 62.1 477.8 62.6 476.9 63.2 476.1M61.5 478.5 62.1 478.9 62.8 479.2M59.5 479.0 59.7 478.0 59.7 477.0 60.3 476.2 60.8 475.4 61.3 474.6 61.6 473.6 61.5 472.6 62.0 471.8 62.4 470.9M57.7 479.5 57.3 478.5 56.8 477.6 56.7 476.6 56.5 475.5 56.5 474.5 56.6 473.4 56.6 472.4 56.6 471.4 56.4 470.3 56.6 469.3 57.0 468.4M57.1 478.4 57.7 477.5 58.2 476.7 58.4 475.7 58.5 474.7 59.1 473.8 59.4 472.9 59.7 471.9 59.9 470.9 59.6 469.9 59.9 469.0 60.2 468.0 60.2 467.0M56.2 477.6 57.0 477.0 57.0 476.0 57.7 475.3 58.5 474.6 59.3 474.1M55.5 477.1 55.6 476.0 55.4 475.0 55.6 474.0 55.5 472.9 55.5 471.9 55.0 471.0 54.5 470.0 54.8 469.0 54.7 468.0 55.3 467.1 55.0 466.1M55.3 467.1 54.4 466.7 53.6 466.1 53.2 465.2 52.5 464.5 51.7 463.9 50.8 463.5 50.0 463.0M53.5 477.7 53.3 476.8 53.6 475.9 53.7 475.0 53.7 474.0 53.3 473.1 53.0 472.2M52.3 479.0 52.9 478.6 53.4 479.0 52.9 479.4 52.3 479.0M52.9 476.7 52.4 475.9 52.1 474.9 51.6 474.0 51.0 473.3 50.8 472.3 50.5 471.4 50.2 470.4M52.1 475.7 52.8 475.0 53.6 474.3 53.6 473.3 54.3 472.5 55.0 471.8 55.5 470.9 55.6 469.8 56.2 469.1 57.1 468.5 57.8 467.8M51.2 475.4 51.7 474.4 52.5 473.7 53.6 473.4 54.6 473.1 55.3 472.3 55.9 471.3 56.4 470.4 57.4 469.9 58.1 469.1 58.5 468.0 58.7 467.0M49.7 475.4 49.9 474.5 50.1 473.6 50.4 472.7 50.5 471.8 50.4 470.8 50.5 469.9M50.1 473.6 50.9 473.0 51.5 472.3 52.5 472.3M49.2 474.1 49.1 473.0 48.8 471.9 48.5 470.9 48.5 469.8 48.9 468.8M48.2 473.5 48.8 472.7 49.4 471.8 50.3 471.4 51.3 471.2 52.1 470.5 52.4 469.5M46.1 472.8 47.0 472.3 47.8 471.6 48.8 471.5 49.8 471.5 50.8 471.5 51.7 471.6 52.7 471.7 53.5 471.1 54.5 470.7M46.7 470.7 47.7 470.5 48.7 470.5 49.7 470.1 50.7 469.9 51.6 469.6 52.7 469.4 53.7 469.4 54.5 468.8M44.8 470.8 45.7 470.1 46.7 469.8 47.3 468.9 48.1 468.3 48.6 467.4 49.2 466.5 50.2 466.1 51.1 465.5 51.6 464.6 52.1 463.6 52.3 462.6M44.4 469.9 45.3 469.2 45.7 468.3 46.2 467.3 47.1 466.8 48.2 466.7 49.1 466.1 50.1 465.8 51.1 465.5 52.2 465.4 53.1 464.9 54.1 464.7 55.0 464.0M45.3 469.2 46.1 469.8 47.0 470.5 48.0 470.4 49.1 470.3M43.7 468.7 44.6 468.3 45.0 467.4 45.6 466.7 46.2 466.0 46.4 465.0 46.7 464.1 47.0 463.2M43.6 467.4 43.5 466.3 44.0 465.4 44.1 464.4 44.4 463.4 45.1 462.7 45.3 461.7 45.5 460.7 45.6 459.7 45.9 458.7 46.1 457.7M44.0 465.4 45.0 465.3 45.7 464.7 46.5 464.3 47.5 464.1 48.2 463.6 49.0 463.1M42.1 467.1 42.7 466.4 43.4 465.7 44.2 465.2 45.1 465.0 46.0 465.1 46.8 464.5M41.7 466.1 42.7 465.7 43.7 465.5 44.6 465.2 45.4 464.5 46.0 463.7 46.5 462.8 46.9 461.8 47.9 461.4 48.6 460.7 49.3 459.9 50.1 459.2 51.0 458.8M39.7 467.3 40.1 467.0 40.6 467.3 40.1 467.6 39.7 467.3M41.6 464.8 42.3 464.1 43.1 463.5 44.0 463.1 45.0 462.8 46.0 462.6 47.0 462.4 47.6 461.6 48.0 460.7 48.9 460.2 49.9 460.1 50.9 460.1 51.9 460.1M40.6 463.9 41.4 463.4 42.4 463.0 43.3 462.5 43.7 461.5 44.4 460.8 45.2 460.2 46.1 459.7 46.7 458.9 47.4 458.1 48.3 457.7M39.6 463.2 40.4 462.5 40.6 461.4 40.9 460.3 41.2 459.3 41.4 458.2 41.8 457.2 41.9 456.1 42.0 455.0M40.9 460.3 41.9 459.9 43.0 459.7 44.0 459.2 45.0 459.4M37.4 464.4 38.1 464.0 38.7 464.4 38.1 464.9 37.4 464.4M39.6 461.9 40.1 461.0 40.7 460.2 41.0 459.3 41.7 458.7 42.5 458.0 43.0 457.1 43.0 456.1 43.6 455.3M41.0 459.3 41.5 458.5 42.1 457.9 42.6 457.1 43.0 456.3M34.0 457.6 35.0 457.2 36.0 456.8 36.8 456.1 37.3 455.2M32.7 458.3 33.3 457.5 33.5 456.5 33.5 455.4 33.8 454.5M31.7 458.1 32.2 457.3 33.0 456.7 33.4 455.8 33.7 454.8M33.4 455.8 32.9 455.2 32.3 454.9M31.2 457.2 31.3 456.1 31.3 455.1 31.1 454.1 30.7 453.1 30.9 452.1M30.6 455.8 31.0 454.9 31.8 454.4 32.7 453.9 32.9 452.9 33.7 452.2 33.7 451.2M29.2 455.7 29.5 454.6 29.9 453.7 30.4 452.6M29.5 454.6 29.7 453.9 29.9 453.1M28.8 455.4 29.6 455.0 30.6 454.9 31.5 454.9 32.5 454.8M28.0 456.3 28.5 455.9 29.1 456.3 28.5 456.7 28.0 456.3M28.0 455.1 27.6 454.3 26.9 453.6 26.8 452.7 26.3 451.9M27.0 457.0 27.5 456.6 28.0 457.0 27.5 457.4 27.0 457.0M27.0 455.2 27.2 454.4 27.1 453.5 27.6 452.8 28.1 452.2M25.7 456.6 26.6 456.0 27.5 456.6 26.6 457.2 25.7 456.6M25.5 456.0 25.0 455.1 24.5 454.2 24.5 453.2 25.0 452.3 24.6 451.3 25.0 450.4M24.5 454.2 25.5 454.1 26.5 454.0M25.3 454.4 24.8 453.6 25.0 452.6 25.1 451.7 25.3 450.7 25.3 449.7 25.1 448.8M25.3 450.7 25.9 450.0 26.8 449.9 27.8 449.7M24.1 454.3 23.6 453.5 23.2 452.6 22.5 452.1 21.9 451.3 21.4 450.5 21.4 449.5 21.7 448.6M22.1 454.1 22.3 453.1 22.3 452.0 22.9 451.2 23.3 450.2 24.1 449.5M21.1 455.9 21.9 455.4 22.7 455.9 21.9 456.5 21.1 455.9M21.0 454.2 20.4 453.2 20.0 452.2 19.8 451.2M20.5 453.6 20.2 452.6 19.6 451.8 18.8 451.1 18.4 450.1 17.7 449.3 16.8 448.8M19.6 451.8 20.2 451.1 20.8 450.4 21.3 449.6M19.5 453.8 20.1 453.1 20.1 452.2 20.1 451.3 20.6 450.5 20.9 449.7M19.0 454.9 19.4 454.6 19.9 454.9 19.4 455.2 19.0 454.9M18.3 454.2 18.7 453.4 19.2 452.6 19.7 451.9 19.7 451.0 19.6 450.1M17.0 453.2 17.6 452.4 18.0 451.6 18.2 450.6 18.2 449.7 18.8 448.9 19.0 448.0 19.4 447.1M16.5 454.6 15.8 454.1 15.5 453.2 14.9 452.5 14.4 451.8M15.3 455.2 15.3 454.3 15.5 453.3 15.8 452.4 15.7 451.4M15.5 453.3 14.9 452.6 14.4 451.9M14.4 455.9 14.1 455.1 13.7 454.2 13.0 453.7 12.2 453.2 11.5 452.6 10.9 451.9M13.4 456.6 12.5 456.2 11.5 456.0 10.7 455.6 10.1 454.7 9.2 454.5 8.6 453.7 7.8 453.1M12.5 456.3 12.9 455.3 12.9 454.3 12.5 453.2 12.1 452.3 12.2 451.2 11.8 450.1M12.5 453.2 11.8 453.0 11.0 452.9 10.6 452.2M11.1 455.6 11.4 454.7 11.3 453.8 11.9 453.0 12.5 452.3 12.4 451.4M12.5 452.3 12.2 451.5 11.5 451.0M10.7 457.7 11.5 457.2 12.3 457.7 11.5 458.3 10.7 457.7M10.5 456.1 10.5 455.1 10.2 454.0 10.6 453.0 11.1 452.1 11.9 451.4M9.8 456.3 9.8 455.4 9.7 454.5 9.6 453.6 9.1 452.8 8.5 452.1M9.6 453.6 10.0 452.9 10.7 452.6 11.3 452.3M9.3 455.3 9.7 454.4 10.2 453.4 10.5 452.4 10.2 451.3M8.3 455.0 9.2 455.1 10.1 455.4 11.1 455.4 11.8 454.7 12.7 454.4 13.5 454.0 14.3 453.5M7.7 454.0 8.6 453.9 9.6 454.2 10.5 454.5 11.4 454.8 12.4 455.2 13.3 455.3M9.6 454.2 10.1 453.3 10.7 452.4 10.9 451.3M6.2 453.6 7.2 453.3 8.1 452.7 8.6 451.8 9.2 450.9 9.7 449.9 10.7 449.5 11.7 449.3M4.0 454.4 4.8 453.8 5.6 454.4 4.8 455.0 4.0 454.4M6.4 452.5 7.2 451.9 8.1 451.4 8.6 450.5 9.4 449.9 10.0 449.0 10.7 448.2 11.7 448.0M7.2 451.9 7.6 452.7 8.4 453.2 9.3 453.4M6.2 451.5 7.2 451.5 8.1 451.1 8.9 450.7 9.9 450.4 10.8 450.0 11.4 449.3 12.4 449.1 13.3 448.8M4.9 450.9 5.8 450.3 6.0 449.2 6.9 448.6M5.8 450.3 6.5 450.1 7.3 450.1M5.1 449.4 6.1 449.8 7.0 450.3 8.0 450.7M4.6 448.5 4.8 447.4 5.7 446.8 6.0 445.8 6.2 444.7 6.3 443.7M3.3 449.0 3.8 448.6 4.4 449.0 3.8 449.4 3.3 449.0M4.1 447.5 5.1 447.2 6.0 447.1 6.7 446.4 7.1 445.4 7.7 444.6M3.7 446.8 4.6 446.4 5.6 446.1 6.4 445.5 7.1 444.7 8.1 444.6 9.1 444.4 9.8 443.6M8.1 444.6 8.6 444.0 9.3 443.4 9.6 442.7M2.3 447.3 2.8 446.9 3.4 447.3 2.8 447.7 2.3 447.3M3.3 446.2 4.1 445.6 5.1 445.4 5.6 444.5 6.5 443.9 7.2 443.2 8.0 442.6M6.5 443.9 7.2 444.4 8.0 444.6 8.9 444.6 9.4 445.2M3.4 444.9 3.8 443.9 3.8 442.8 3.9 441.7 4.6 440.9 5.3 440.0 5.7 439.0M3.8 443.9 3.1 443.0 2.7 442.0M2.0 444.4 2.9 444.0 3.4 443.2 4.3 442.8 5.0 442.0M2.6 443.6 3.3 444.4 3.9 445.3 4.7 446.1 5.6 446.5 6.7 446.6 7.7 447.0 8.5 447.7M0.3 444.0 1.0 443.5 1.7 444.0 1.0 444.5 0.3 444.0M1.9 442.6 3.0 442.7 3.9 443.3 5.0 443.3M3.9 443.3 4.0 442.5 4.3 441.8M1.0 441.8 2.1 441.7 3.1 441.6 4.1 442.0 5.0 442.6 6.1 442.5M5.0 442.6 5.1 443.6 5.1 444.6M2.3 440.7 3.4 440.8 4.4 440.6 5.3 440.1 6.2 439.6 7.2 439.4 8.3 439.5 9.2 439.9M1.9 439.9 2.9 440.0 3.8 440.0 4.8 440.1 5.8 439.9 6.7 439.8M5.8 439.9 6.4 439.3 7.1 438.8 7.6 438.1M1.0 438.8 1.5 438.1 2.1 437.5 2.9 437.3 3.7 437.2M2.0 438.1 3.0 438.0 4.0 437.5 5.0 437.2M1.5 436.7 2.5 436.8 3.4 436.4 4.4 436.3 5.3 436.8 6.2 437.4M3.4 436.4 3.7 435.6 4.4 435.2 4.7 434.4M-0.2 436.8 0.3 436.5 0.7 436.8 0.3 437.1 -0.2 436.8M0.6 436.0 1.4 435.8 2.2 435.3 3.0 434.9 3.7 434.4M1.0 435.0 1.6 435.8 2.6 436.2 3.6 436.5M1.7 433.9 2.4 434.7 3.4 434.8 4.5 434.6 5.5 434.5M3.4 434.8 3.7 435.6 4.1 436.3M0.6 433.2 1.3 433.5 2.1 433.9 2.9 433.9 3.4 434.6M1.7 431.6 2.6 431.2 3.4 430.5 4.1 429.8 4.4 428.8M-0.3 432.2 0.5 431.6 1.4 432.2 0.5 432.8 -0.3 432.2M-0.7 430.8 -0.2 430.1 0.2 429.3 0.8 428.7 1.7 428.5M-1.3 429.8 -1.2 428.8 -1.5 427.8 -1.7 426.9 -1.6 425.9 -1.9 425.0 -2.3 424.0M-2.0 429.0 -1.2 428.3 -0.8 427.2 -0.9 426.1 -0.3 425.2 -0.3 424.1M-3.0 428.6 -3.3 427.6 -2.8 426.7 -2.9 425.6 -2.6 424.6 -3.0 423.7M752.4 406.9 751.8 407.7 751.1 408.3 750.7 409.1 750.6 410.0 750.6 411.0 750.1 411.8M750.6 411.0 750.9 411.8 751.3 412.6 751.4 413.5M751.6 405.6 752.3 405.2 752.9 405.6 752.3 406.0 751.6 405.6M751.6 406.7 752.5 407.3 753.5 407.7 754.5 407.9 755.4 408.6 756.2 409.3 756.6 410.3 757.6 410.7M752.5 407.3 753.5 407.2 754.4 407.0 755.1 406.5 755.9 405.9M750.8 404.9 751.4 404.5 752.0 404.9 751.4 405.3 750.8 404.9M750.3 407.3 751.3 407.5 752.4 407.6 753.0 408.5 753.4 409.5M749.7 405.6 750.1 405.2 750.6 405.6 750.1 405.9 749.7 405.6M749.2 407.7 748.4 408.1 747.9 409.0 747.5 409.8 746.8 410.5 746.1 411.1M746.8 410.5 747.6 411.0 748.1 411.7M748.4 405.6 749.0 405.2 749.5 405.6 749.0 406.0 748.4 405.6M748.3 407.9 749.3 408.4 750.3 408.7 751.3 409.1 752.0 409.9 753.0 410.4 754.0 410.8M750.3 408.7 750.0 409.4 750.2 410.2 749.8 410.9M745.0 407.5 745.9 407.9 746.8 408.4 747.7 408.6 748.5 409.1 749.1 409.9 749.7 410.7 750.6 411.0M748.5 409.1 749.0 408.3 749.7 407.6 750.2 406.8 751.1 406.4M744.0 407.4 744.6 408.0 745.1 408.7 745.0 409.6 744.9 410.5M745.0 409.6 745.9 409.6 746.7 409.6M743.4 408.1 744.3 408.3 745.1 408.9 745.9 409.4 746.8 409.8 747.4 410.6 747.9 411.4M747.4 410.6 748.4 410.5 749.5 410.4M742.6 409.1 743.2 409.8 743.7 410.5 744.1 411.3 744.8 411.8M741.1 408.4 741.5 408.1 741.9 408.4 741.5 408.7 741.1 408.4M742.5 410.3 743.2 410.9 743.7 411.6 744.3 412.4 744.3 413.3 744.9 414.0M743.2 410.9 744.0 411.3 744.9 411.2M740.9 410.6 740.6 411.6 740.1 412.6 740.4 413.6 740.2 414.6 740.0 415.6 740.2 416.7M740.2 414.6 739.6 415.1 739.0 415.6 738.6 416.3M741.7 412.2 742.8 412.3 743.8 412.1 744.8 411.7 745.9 412.0 746.9 411.8M744.8 411.7 745.6 412.4 746.2 413.2 747.0 413.8M740.1 412.3 740.9 412.8 741.9 412.6 742.8 412.8 743.7 412.5 744.7 412.5M743.7 412.5 744.2 411.8 744.6 411.0 744.6 410.2M739.8 413.9 739.3 414.7 739.5 415.7 739.0 416.4 738.6 417.3 738.3 418.3 738.2 419.2 738.2 420.2 738.5 421.1M738.3 418.3 739.0 419.1 739.4 420.1 740.3 420.7 741.2 421.1M738.0 412.5 738.7 412.0 739.3 412.5 738.7 412.9 738.0 412.5M737.8 413.4 738.6 414.2 739.5 414.7 740.3 415.4 741.2 415.8 742.1 416.4 743.2 416.5M738.6 414.2 739.5 414.2 740.3 413.9 741.0 413.3 741.9 413.3M736.6 412.5 737.1 412.2 737.6 412.5 737.1 412.9 736.6 412.5M737.6 414.7 738.6 414.4 739.5 413.9 740.5 413.3 741.4 412.8 742.3 412.3 743.2 411.7M736.4 414.0 736.8 413.7 737.2 414.0 736.8 414.3 736.4 414.0M737.6 415.7 738.4 416.3 739.4 416.5 740.5 416.7 741.3 417.3M736.2 416.2 737.1 416.2 738.1 416.4 738.8 417.2 739.7 417.5 740.7 417.4M738.8 417.2 739.3 417.9 739.2 418.8M736.9 418.1 737.0 419.0 737.2 420.0 737.7 420.8 738.4 421.5 738.9 422.3 739.3 423.2M737.0 419.0 737.9 418.9 738.7 419.4 739.6 419.5M735.2 418.3 735.6 419.1 736.2 419.7 736.9 420.3M735.7 420.7 736.6 420.5 737.4 419.8 738.3 419.3 739.0 418.6M733.7 420.9 734.0 421.7 734.4 422.5 734.7 423.4 734.7 424.3 734.5 425.1M731.0 420.2 731.8 419.6 732.7 420.2 731.8 420.8 731.0 420.2M735.0 422.3 735.9 422.3 736.5 421.8 737.3 421.3M735.9 422.3 736.5 422.9M732.4 421.5 733.0 421.1 733.7 421.5 733.0 422.0 732.4 421.5M733.2 423.3 733.9 424.0 734.7 424.5 735.6 424.9 736.4 425.2 736.7 426.2 736.7 427.1 737.1 428.0M735.6 424.9 736.4 425.2 737.1 424.9 737.9 424.5M731.2 423.0 731.9 422.5 732.5 423.0 731.9 423.4 731.2 423.0M732.3 424.3 733.1 423.8 733.8 424.3 733.1 424.8 732.3 424.3M734.2 425.8 734.9 426.6 735.8 427.2 736.9 427.1 737.8 427.6 738.8 428.1 739.6 428.8 740.4 429.5M736.9 427.1 737.8 427.0 738.6 426.5 739.2 425.8 739.9 425.1M732.7 427.0 733.7 426.8 734.5 426.2 735.5 426.3M733.7 426.8 733.9 427.4 734.1 428.1M733.4 428.0 733.9 428.7 734.2 429.6 734.6 430.5 734.8 431.4M733.5 429.6 734.1 430.2 734.8 430.8 735.4 431.4M734.1 430.2 733.6 431.2M731.9 429.5 732.7 429.0 733.5 429.5 732.7 430.0 731.9 429.5M732.1 430.4 733.0 429.9 733.9 429.4 734.9 429.6 735.8 429.1 736.7 428.6 737.8 428.6M730.1 430.2 730.7 429.8 731.4 430.2 730.7 430.7 730.1 430.2M733.1 431.9 733.9 431.4 734.7 431.1 735.5 430.6 736.3 430.3 737.2 430.1M736.3 430.3 736.2 429.5 736.0 428.8 735.8 428.1M733.2 433.5 734.2 433.2 735.2 433.3 736.2 433.0 737.2 432.8 738.1 432.4 739.1 432.1M731.2 433.2 731.6 432.9 732.1 433.2 731.6 433.5 731.2 433.2M731.5 434.3 732.6 434.4 733.7 434.6 734.8 434.7 735.6 435.5 736.4 436.2 737.1 437.0M734.8 434.7 735.6 434.0 736.6 434.1M729.4 434.0 730.1 433.5 730.8 434.0 730.1 434.5 729.4 434.0M731.4 435.6 732.4 435.9 733.4 436.0 734.3 436.3 735.3 436.7 736.3 436.8 737.3 436.8 738.3 436.7M729.8 435.4 730.3 435.0 730.9 435.4 730.3 435.8 729.8 435.4M732.1 436.5 732.7 437.2 732.8 438.2 733.2 439.1 733.8 439.8 734.6 440.3 734.9 441.2M734.6 440.3 735.6 440.6 736.6 440.8 737.6 440.5M730.0 436.3 730.7 435.8 731.4 436.3 730.7 436.7 730.0 436.3M732.4 438.2 733.4 438.2 734.4 438.3 735.4 438.1 736.4 438.3 737.4 438.3 738.3 438.6 739.2 439.0 740.2 439.0M731.5 439.2 732.6 439.0 733.6 439.0 734.6 439.2 735.6 439.0 736.5 438.5 737.5 438.1 738.4 437.6M733.6 439.0 733.7 438.2 733.9 437.4 733.8 436.6 733.9 435.8M730.0 439.0 730.6 438.6 731.2 439.0 730.6 439.4 730.0 439.0M730.8 441.1 731.4 441.7 732.3 442.0 732.9 442.6 733.5 443.4 734.2 443.9M732.3 442.0 732.0 442.7 731.9 443.4M729.0 441.1 729.8 440.5 730.6 441.1 729.8 441.6 729.0 441.1M731.9 442.6 732.7 442.1 733.5 441.6 734.3 441.1 735.3 441.1 736.2 441.4M732.7 442.1 732.8 443.0 733.4 443.5M731.8 443.3 732.7 442.7 733.7 442.4 734.6 441.7 735.6 441.5 736.7 441.3 737.7 441.3 738.8 441.1M735.6 441.5 736.4 441.7 737.1 442.0 737.7 442.4M730.6 443.3 731.0 443.0 731.4 443.3 731.0 443.6 730.6 443.3M729.8 444.3 730.5 443.8 731.1 444.3 730.5 444.8 729.8 444.3M730.5 445.4 731.2 444.8 732.1 444.8 732.9 444.3 733.6 443.7 734.4 443.4M732.9 444.3 733.2 443.5 733.7 442.7M728.0 445.4 728.7 445.0 729.3 445.4 728.7 445.9 728.0 445.4M731.8 446.6 732.6 446.1 733.5 446.0 734.4 446.2 735.4 446.0 736.1 445.5M734.4 446.2 735.2 446.4 735.9 446.3M729.0 446.6 729.6 446.2 730.3 446.6 729.6 447.1 729.0 446.6M730.3 447.8 731.4 447.5 732.3 446.8 733.3 446.5 734.3 445.9 735.3 445.7 736.4 445.6 737.4 445.2M733.3 446.5 732.9 445.5 732.4 444.7 732.4 443.6 732.4 442.6M730.9 448.9 731.8 449.2 732.8 449.5 733.5 450.1 734.3 450.7 735.3 450.9 736.2 451.3 737.2 451.4 738.2 451.7M734.3 450.7 734.7 451.7 735.3 452.6 736.2 453.1 737.2 453.5M728.8 449.2 729.6 448.7 730.3 449.2 729.6 449.8 728.8 449.2M730.9 449.9 731.8 449.5 732.7 449.3 733.5 448.7 734.5 448.5 735.4 448.2 736.3 448.1 736.9 447.3M728.7 450.3 729.2 449.9 729.8 450.3 729.2 450.6 728.7 450.3M731.8 451.0 732.7 450.8 733.5 451.0 734.4 451.3 735.2 451.4M733.5 451.0 734.3 451.6 735.0 452.1M732.3 452.4 733.1 451.7 733.9 451.1 734.9 451.0 736.0 451.1M732.0 453.1 732.9 453.1 733.8 452.9 734.8 453.0M729.7 453.5 730.2 453.1 730.8 453.5 730.2 453.9 729.7 453.5M730.0 455.1 730.6 454.7 731.2 455.1 730.6 455.5 730.0 455.1M732.3 455.7 733.3 455.3 734.3 455.2 735.2 454.6 736.1 454.1M730.5 456.0 731.2 455.4 732.0 456.0 731.2 456.5 730.5 456.0M732.1 456.9 733.1 456.5 734.1 456.5 735.1 456.4M733.1 456.5 733.1 455.8 733.1 455.1M730.3 457.1 731.0 456.6 731.7 457.1 731.0 457.6 730.3 457.1M732.5 458.2 733.3 457.4 733.9 456.5 734.5 455.6 734.9 454.6 735.8 453.9 736.7 453.4M734.5 455.6 734.5 454.6 734.2 453.6 734.2 452.6M734.3 458.9 735.3 459.4 736.0 460.1 737.0 460.7 737.4 461.7 737.6 462.7 737.8 463.8M736.0 460.1 736.8 460.4 737.6 460.6 738.3 460.4M731.8 459.2 732.7 458.6 733.5 459.2 732.7 459.8 731.8 459.2M733.3 460.5 734.2 460.3 735.0 459.8 735.9 460.0M733.6 461.5 734.5 461.8 735.0 462.6 735.3 463.5 735.6 464.4 736.5 464.8M735.0 462.6 735.2 463.4 735.5 464.1M734.5 463.8 735.5 464.0 736.6 464.0 737.6 464.5 738.5 464.9 739.6 465.0M732.4 464.0 733.2 463.5 733.9 464.0 733.2 464.6 732.4 464.0M734.6 465.0 735.4 464.9 736.3 464.6 737.2 464.7 738.0 465.0M736.3 464.6 736.8 464.9 737.2 465.3M732.9 465.2 733.7 464.6 734.6 465.2 733.7 465.7 732.9 465.2M734.0 466.3 734.9 465.9 735.8 465.5 736.5 464.7 737.5 464.6 738.5 464.3 739.2 463.6M738.5 464.3 738.7 463.3 739.4 462.5M731.3 466.7 731.9 466.3 732.6 466.7 731.9 467.2 731.3 466.7M734.5 467.3 735.5 467.1 736.6 466.9 737.7 466.8 738.7 466.4 739.8 466.1 740.8 465.9 741.8 466.3M735.1 468.0 736.1 468.3 737.0 468.0 738.0 468.3 738.9 468.8 739.8 469.0 740.7 469.5 741.6 470.0M738.0 468.3 738.7 467.7 739.6 467.3 740.2 466.6 741.0 466.0M735.2 469.2 736.2 469.4 737.1 469.7 738.1 470.1 739.0 470.4 739.5 471.3 740.0 472.2M736.2 469.4 735.6 470.2 735.2 471.1 734.6 471.9M735.6 470.5 736.6 470.7 737.4 470.1 738.0 469.3 738.9 468.8 739.7 468.1 740.5 467.5M736.6 470.7 737.4 470.7 738.1 471.1 738.9 471.3M733.6 470.7 734.4 470.2 735.2 470.7 734.4 471.3 733.6 470.7M735.2 471.7 735.8 472.3 736.5 473.0 737.4 473.3 737.9 474.0M735.8 472.3 736.5 472.0 737.2 471.8M735.3 472.9 736.3 472.8 737.1 472.4 738.0 472.0 738.8 471.5 739.8 471.2 740.7 471.0M736.8 473.8 737.7 473.3 738.6 472.9 739.6 472.7 740.6 472.9 741.7 472.9M737.1 474.8 738.0 474.4 739.0 474.0 740.0 473.9M739.0 474.0 739.1 473.1 739.1 472.2M735.8 475.0 736.2 474.6 736.7 475.0 736.2 475.3 735.8 475.0M736.1 476.3 736.8 475.6 737.7 475.5 738.4 474.9 739.2 474.3 739.7 473.5M739.2 474.3 739.4 473.4 740.0 472.8M736.6 477.0 737.6 476.7 738.6 477.1 739.5 477.6 740.6 477.8 741.4 478.5M737.6 476.7 737.4 477.6 737.9 478.5M735.9 478.5 736.8 478.5 737.3 479.2 738.1 479.4 739.0 479.6M738.1 479.4 738.7 479.1 739.3 479.0M736.6 479.4 737.3 480.2 738.0 481.0 738.5 482.0 739.1 482.9 739.3 484.0M739.1 482.9 739.0 483.7 738.5 484.3M736.3 480.5 737.3 480.5 738.0 480.0 738.8 479.5 739.7 479.2 740.6 478.8M738.0 480.0 738.1 479.0 738.7 478.4 739.1 477.6M734.4 480.7 735.0 480.3 735.6 480.7 735.0 481.1 734.4 480.7M736.7 481.4 737.5 481.1 738.3 480.6 738.6 479.7 739.3 479.1 740.2 478.9 741.1 478.7M736.6 482.7 737.5 482.3 738.4 482.3 739.1 481.6 739.7 480.9 740.5 480.4 741.2 479.8M735.1 482.8 735.7 482.4 736.2 482.8 735.7 483.1 735.1 482.8M734.0 483.8 734.5 483.5 734.9 483.8 734.5 484.1 734.0 483.8M737.4 484.4 738.3 484.8 739.2 485.2 740.0 485.8M738.2 485.5 738.6 484.6 739.1 483.7 739.4 482.8 739.4 481.8 739.9 480.9M739.4 482.8 740.0 483.2 740.5 483.7 741.1 484.2M736.7 485.7 737.3 485.3 737.9 485.7 737.3 486.1 736.7 485.7M737.3 487.1 738.0 486.3 739.0 485.9 739.7 485.1 740.5 484.6M739.0 485.9 739.4 485.4 739.9 484.8M737.4 488.0 738.4 487.7 739.5 487.5 740.4 486.9M739.5 487.5 739.1 486.6 738.8 485.7M734.8 488.4 735.2 488.0 735.7 488.4 735.2 488.7 734.8 488.4M738.5 488.8 739.2 488.1 740.0 487.6 740.9 487.1 741.8 486.9 742.5 486.2 743.4 486.0 744.4 486.0 745.3 485.7M744.4 486.0 744.4 485.2 744.9 484.5 745.1 483.8M738.1 490.0 738.9 490.8 739.9 491.1 741.0 491.3M738.9 490.8 738.7 491.3 738.9 491.9M738.1 491.2 738.9 490.8 739.7 490.6 740.6 490.3 741.2 489.8M739.7 490.6 740.3 489.8 741.2 489.4M757.6 406.7 756.9 407.4 756.9 408.4 756.7 409.4 756.8 410.3 756.9 411.3M756.9 407.4 757.5 408.0 758.1 408.6 758.8 409.1M755.5 407.4 756.1 408.2 757.1 408.5 758.1 409.0M757.1 408.5 756.9 409.3 756.3 409.9M753.9 406.6 753.5 407.7 753.9 408.7 754.2 409.7 754.5 410.8 755.0 411.8M753.5 407.7 752.9 408.3 752.3 409.0 751.9 409.8M751.9 406.6 751.8 407.5 751.5 408.3 750.8 408.8M749.2 407.2 748.3 407.4 747.6 408.0 746.8 408.5M747.6 408.0 747.4 409.1M747.4 407.9 746.7 408.7 746.5 409.6 746.4 410.5M746.7 408.7 746.2 408.5 745.6 408.4M746.3 409.5 746.1 410.3 745.7 411.0 745.7 411.8M746.1 410.3 745.5 410.7 744.9 410.8M746.3 411.1 747.3 411.4 748.3 411.8 749.4 411.9 750.0 412.8 750.4 413.8M745.1 412.4 745.3 413.3 745.6 414.2 745.7 415.2 746.1 416.1 745.9 417.1 745.6 418.0M739.7 419.2 740.7 419.3 741.5 420.0 742.6 420.2 743.6 420.2M741.5 420.0 742.3 419.7 743.1 419.5M739.4 421.5 740.3 421.2 741.2 421.3 742.2 421.3 743.2 421.3M737.4 423.1 738.2 423.7 739.0 424.3 739.5 425.1 740.3 425.7 741.1 426.2M738.2 423.7 738.0 424.6 737.4 425.3 736.8 425.9M737.1 425.1 737.9 425.5 738.7 426.1 739.6 426.0 740.4 425.5M738.7 426.1 738.7 427.1 739.1 428.1M737.8 429.0 738.7 429.6 739.8 429.4 740.7 430.0 741.8 429.8M740.7 430.0 740.9 429.2 741.5 428.7M736.9 430.7 737.7 431.4 738.8 431.5 739.8 431.9 740.9 431.9M739.8 431.9 739.7 432.7 740.3 433.3 740.7 434.1M737.2 432.4 737.9 431.8 738.5 431.3 739.2 430.8M738.5 431.3 738.9 430.9 738.9 430.3M735.8 435.1 736.1 436.0 736.7 436.8 736.7 437.7 737.4 438.4 737.7 439.3M735.1 438.6 735.1 439.4 735.4 440.1 736.0 440.7M735.1 439.4 734.3 439.9M736.1 440.5 736.8 439.8 737.7 439.3 738.3 438.5M736.1 447.9 737.0 448.6 737.4 449.6 738.1 450.4 738.9 451.2 739.4 452.2M737.0 448.6 737.9 448.1 739.0 448.3M735.8 451.4 736.7 452.0 737.2 453.0 737.8 453.9 738.0 455.0M737.8 453.9 738.8 453.9 739.7 454.3M737.4 454.2 738.0 453.5 738.9 453.2 739.7 452.9 740.4 452.2 740.9 451.5M740.4 452.2 741.1 452.6 741.9 452.8M737.7 455.9 738.2 455.0 739.1 454.4 740.0 453.9 740.7 453.1 741.4 452.2M738.1 459.2 738.7 459.7 739.2 460.3 739.4 461.1M738.7 459.7 739.2 459.8 739.8 459.7M738.8 460.7 739.3 460.0 740.1 459.5 740.9 459.1 741.6 458.6M737.6 462.4 738.5 463.1 739.4 463.6 740.0 464.4 740.6 465.3M739.4 463.6 738.8 464.5 738.0 465.2M738.4 463.9 739.2 463.3 740.1 462.8 740.8 462.1M738.2 465.4 739.1 464.9 740.1 464.4 741.2 464.4M738.2 467.3 739.1 467.3 740.0 467.1 741.0 467.0M739.9 468.4 740.2 469.3 740.8 470.1 741.3 470.9 741.9 471.7 742.5 472.5M740.8 470.1 740.9 470.8 740.7 471.6M739.5 470.4 739.4 469.5 739.5 468.6 739.0 467.8 739.0 466.9 738.7 466.1M739.4 469.5 739.9 468.9 740.7 468.5M740.0 472.5 740.0 471.8 740.4 471.1 740.4 470.3M740.5 475.9 741.4 475.7 742.3 475.8 743.2 476.1 744.1 475.8 745.0 475.9M740.6 478.1 741.5 477.6 742.6 477.6M741.5 477.6 741.3 477.1 741.4 476.5M741.8 481.1 742.5 481.0 743.3 481.0 744.0 481.2M743.3 481.0 743.2 482.0M742.8 482.9 743.8 482.9 744.7 482.4 745.6 482.5 746.6 482.6M744.7 482.4 745.0 481.5 745.0 480.6M742.1 484.5 742.9 483.9 743.8 483.6 744.7 483.0M742.9 483.9 742.9 483.3 742.8 482.6M742.4 486.4 743.2 485.7 744.2 485.3 745.1 484.8M744.2 485.3 744.7 485.8 745.3 486.3M742.3 488.5 742.6 489.4 743.2 490.2 743.5 491.1 744.1 491.9 744.6 492.8M743.3 490.3 744.0 489.9 744.4 489.1 744.6 488.3 744.7 487.4M744.0 489.9 745.0 489.5M577.3 409.8 577.0 410.5M578.6 411.2 578.1 412.1M580.5 412.9 580.2 413.5M581.1 413.6 580.8 414.2M580.2 414.3 580.3 413.7M578.1 413.5 578.7 413.6M577.0 412.7 577.6 412.6M576.0 412.1 576.7 411.3M575.1 410.0 575.7 409.9 576.2 409.6M578.4 408.9 578.5 409.5 578.5 410.2M579.9 409.1 579.5 409.6 579.1 410.2M581.7 411.3 581.5 410.8M581.2 412.8 581.3 411.8M580.4 412.3 581.1 411.9M579.4 410.6 579.7 410.2M578.4 410.1 578.9 409.5M578.2 408.9 578.2 408.1M575.3 410.9 574.3 411.0M575.9 411.6 575.0 411.7M577.8 413.9 577.4 414.3 577.3 414.8M578.2 415.3 577.4 415.9M577.2 416.1 577.6 415.6 577.9 415.1M577.6 415.6 578.0 415.6M576.9 415.7 577.1 414.7M575.9 415.0 576.5 414.5M575.5 414.5 575.8 413.6M573.6 412.7 574.2 412.9M573.2 411.7 574.1 411.3M569.6 411.6 569.4 412.1 569.3 412.7M570.2 410.3 570.5 410.8 570.9 411.1M571.0 409.9 570.9 410.9M572.3 410.4 572.8 411.3M572.6 411.4 572.6 411.9M574.5 412.4 574.1 412.9 573.8 413.4M574.1 412.9 574.2 413.4M575.2 413.3 575.0 414.1M575.4 413.8 574.6 414.1M575.6 414.6 574.6 414.9M575.8 415.9 575.7 416.5M576.7 416.9 575.8 417.5M577.4 419.1 576.8 419.1 576.2 419.1M576.8 419.1 576.1 418.8M576.8 419.8 577.4 419.0M575.8 419.9 575.7 419.1M575.2 418.8 575.5 418.3 575.9 417.8M574.0 418.3 574.7 418.5M573.6 417.3 574.2 417.4M572.7 416.5 573.1 415.6M571.9 415.6 572.5 415.3M570.0 414.7 569.7 413.7M568.9 414.0 569.6 413.3M569.0 413.1 569.8 412.8M563.7 416.1 563.9 416.7 564.2 417.2M567.2 416.3 566.9 417.3M569.0 417.0 568.4 417.8M570.2 416.7 569.2 417.0M569.7 417.7 569.1 417.8M569.5 418.8 570.1 417.9M568.2 418.5 567.8 418.1 567.2 417.9M567.8 418.1 567.3 418.3M566.1 418.3 565.6 417.8 565.6 417.2M565.0 417.7 564.8 416.7M564.0 417.9 564.1 416.8M563.3 417.0 563.5 416.5M575.0 419.7 574.4 419.7 573.8 420.0M575.9 420.6 575.5 421.4M577.0 423.3 576.3 424.2M577.3 424.5 576.3 424.5M576.9 426.9 575.8 426.7M576.5 427.8 576.1 427.2M575.4 427.2 575.8 426.2M574.6 426.4 574.9 425.8M574.3 425.7 574.9 425.8 575.5 425.4M573.4 423.9 574.3 424.0M573.4 423.0 573.8 423.4 574.4 423.4M572.9 429.8 572.6 430.4 572.7 430.9M575.4 433.6 574.5 433.2M576.3 435.2 575.9 435.7 575.3 436.0M576.5 437.2 576.0 437.5M575.7 437.0 576.2 436.9M574.7 436.6 574.5 435.7M574.5 435.6 575.5 435.3M572.9 433.3 573.3 432.9 573.2 432.2M572.5 432.5 573.1 432.5 573.6 432.5M573.1 432.5 573.3 432.9M655.9 453.4 656.3 454.2 656.8 455.0M657.2 452.9 656.8 453.8M658.5 455.2 658.1 454.5 657.4 454.1M657.8 456.2 657.6 455.5 657.1 454.9M657.4 459.2 656.5 458.9M655.7 460.9 655.2 460.8 654.6 460.8M656.1 462.1 655.4 461.6 654.5 461.5M655.7 463.0 655.0 463.6M656.8 464.1 655.8 464.0M655.8 464.5 655.4 464.1 654.9 463.7M655.3 465.3 655.0 464.6 654.7 463.9M654.3 465.4 653.5 465.0M654.2 466.7 653.5 466.8 652.9 467.2M654.4 467.6 653.6 467.5 653.0 467.1M653.5 467.8 653.0 468.3M653.5 469.0 652.9 468.9M652.9 469.4 652.5 469.0 652.0 468.6M653.1 470.4 652.3 470.7 651.9 471.4M653.1 471.8 652.5 472.5 651.8 472.9M652.5 472.5 652.9 473.2M654.0 472.9 653.2 473.2M652.9 472.7 652.3 472.5 651.7 472.3M651.4 474.1 650.8 473.8 650.1 473.5M651.6 474.9 651.0 475.5M651.6 476.3 650.9 475.9 650.3 475.4M650.9 475.9 651.0 475.1M651.8 478.4 651.3 478.8M649.0 480.4 649.8 480.4 650.7 480.6M649.8 480.4 649.9 479.9M648.8 478.4 649.6 478.4 650.4 478.5M649.3 477.2 650.1 477.2 650.8 477.6M650.1 477.2 650.3 477.8M649.4 475.3 650.2 475.8M648.6 473.9 649.2 473.9 649.8 473.9M648.6 472.9 649.0 472.4 649.6 472.1M649.0 472.4 648.9 471.7M646.0 471.0 646.3 470.1M644.8 470.1 645.7 470.0M644.8 468.2 645.5 468.0 645.9 467.4M645.5 468.0 645.6 467.2M646.1 468.1 647.0 468.0M646.7 465.8 647.3 465.9M646.9 465.0 646.8 464.1 647.4 463.5M646.1 464.3 646.2 463.3M645.8 463.6 646.4 463.3 647.1 463.1M646.4 463.3 647.1 463.3M645.9 461.4 646.5 461.4M648.1 461.1 649.0 461.3M648.5 459.0 649.1 459.3 649.7 459.8M649.8 458.5 650.3 459.0M651.1 457.9 651.9 457.2M651.7 457.3 652.3 457.6M652.0 456.4 652.2 457.1 652.5 457.8M652.9 455.8 653.4 456.3M653.8 455.7 654.4 455.7 655.1 455.7M481.0 311.2 480.9 311.7 480.5 312.1M481.4 312.2 480.5 312.6 480.0 313.3M480.5 312.6 479.9 311.8M480.9 313.4 479.9 313.8 478.9 314.0M480.4 314.7 479.7 313.9 478.7 313.6M479.7 313.9 478.8 314.1M479.9 316.2 479.1 316.4 478.4 316.1M479.1 316.4 478.8 315.9M481.5 319.4 480.7 319.4 480.1 320.0 479.4 320.1M480.1 320.0 479.5 319.5M482.1 320.8 481.1 320.7 480.1 320.7M481.1 320.7 481.0 321.7M482.4 322.0 481.6 322.0 480.8 321.9 480.1 321.5M482.6 323.2 481.7 323.4 480.7 323.1 479.7 323.0M482.9 324.5 482.1 324.6 481.4 324.7 480.6 324.7M482.1 324.6 482.2 325.2 482.5 325.7M482.2 325.7 481.4 325.3 480.6 325.2 479.8 325.7M479.5 329.1 479.3 328.1 479.4 327.1 479.1 326.2M479.3 328.1 478.7 328.1 478.1 328.0M478.6 330.2 478.0 329.7 477.5 329.0M478.0 329.7 478.2 329.1M477.7 331.2 477.1 331.1 476.6 330.6M477.2 332.2 476.3 331.7 475.6 331.0 474.7 330.6M475.9 335.5 475.1 335.0 474.4 334.6 473.5 334.4M474.8 336.0 474.0 335.6 473.1 335.3 472.4 334.7M474.0 335.6 474.0 334.9 473.9 334.3M473.8 336.6 473.8 335.5 473.4 334.5 473.6 333.5M473.4 334.5 474.0 334.1 474.7 334.1M472.5 337.1 472.1 336.3 472.2 335.4M472.1 336.3 471.6 336.0M469.7 341.5 468.8 341.2M468.7 344.6 468.2 343.8 467.7 342.9 467.1 342.2M468.2 343.8 467.5 343.7 466.8 343.3M467.3 345.3 467.4 344.2 467.3 343.2 467.6 342.1M467.3 343.2 466.6 342.6 465.9 342.2M466.7 346.3 466.0 345.4M463.3 348.3 462.5 347.8 461.8 347.1 461.6 346.1M462.6 349.2 462.1 348.4 462.1 347.5M462.1 348.4 462.4 347.9M461.3 349.7 461.0 348.7 460.8 347.7 460.6 346.7M461.0 348.7 460.6 349.1 460.0 349.1M461.5 284.8 461.1 284.4 460.6 284.0M460.5 285.9 460.0 285.6 459.7 285.1M459.6 287.4 458.6 287.8M462.0 291.2 461.2 291.8M465.0 292.9 464.4 293.3 464.2 293.9M466.1 293.8 465.3 294.4M467.9 294.9 467.5 295.5 467.5 296.3M468.2 302.8 468.7 303.2 468.8 303.8M471.0 303.4 470.4 303.6 469.9 304.0M472.3 304.7 472.1 305.3M473.4 305.6 472.9 306.0 472.5 306.5M351.2 279.6 351.9 280.3 352.8 280.7M351.9 280.3 351.8 280.9M357.7 279.7 357.8 280.4 358.4 280.9 359.1 281.2M359.4 279.2 360.0 279.7 360.3 280.4 360.9 281.0M360.0 279.7 359.9 280.7M361.1 278.9 361.3 279.6 361.3 280.3M362.3 280.6 361.7 281.5M363.1 281.7 362.2 282.1 361.2 282.3M362.2 282.1 362.0 282.6 361.6 283.0M364.0 283.0 363.6 283.9 363.5 284.9M364.7 283.8 364.4 284.6 363.9 285.3 363.8 286.1M369.0 287.5 368.6 288.0 368.2 288.5M368.6 288.0 368.0 288.0M370.7 289.6 369.8 290.2 369.0 290.9M371.5 290.5 371.1 290.9 370.7 291.4M372.4 291.7 371.8 291.5 371.2 291.8M373.1 292.5 373.1 293.3 372.9 294.1 372.8 294.9M373.8 293.3 373.8 294.2 373.7 295.0 373.4 295.8M373.7 295.0 374.0 295.5 374.5 295.8M376.0 296.5 375.2 296.1 374.3 296.4 373.6 296.7M374.3 296.4 373.7 295.9M376.5 298.1 376.2 299.1 376.1 300.1M376.2 299.1 376.8 299.7M376.6 300.6 376.3 300.0 375.7 299.6M375.6 301.1 375.4 300.0 374.6 299.2M374.2 302.1 373.6 301.8 373.0 301.5M372.1 302.6 371.7 301.9 370.9 301.7M371.7 301.9 371.9 301.2M370.6 304.2 369.8 304.4 369.1 304.4M371.4 305.5 371.0 306.4 370.3 307.2M372.5 306.3 372.3 306.8 371.9 307.2M373.3 307.4 373.1 308.0 372.6 308.6M373.1 308.0 372.3 308.0M374.1 308.7 373.7 309.3 373.4 310.1M365.6 311.8 364.8 312.4 363.9 312.7M364.5 311.2 364.0 311.5 363.7 312.0M364.1 310.5 365.0 309.8 365.8 310.5 365.0 311.1 364.1 310.5M363.9 310.5 363.5 311.2 363.7 311.9 363.8 312.7M363.5 311.2 364.3 311.5M363.1 310.2 363.2 311.0 363.6 311.8 364.0 312.5M361.9 309.9 362.0 310.7M361.4 309.6 361.1 310.2 360.7 310.7M361.5 308.3 362.1 307.8 362.7 308.3 362.1 308.7 361.5 308.3M360.7 309.2 359.8 309.0 359.0 308.9M359.6 308.4 358.8 308.3 358.0 308.0M358.8 306.2 359.5 305.7 360.2 306.2 359.5 306.7 358.8 306.2M357.4 307.7 357.9 308.7 358.4 309.6M356.8 306.7 357.7 306.1 358.6 306.7 357.7 307.3 356.8 306.7M356.3 307.5 357.0 307.9 357.4 308.5 357.4 309.3M355.1 307.2 355.1 308.1 355.2 309.1M354.7 305.9 355.2 305.6 355.6 305.9 355.2 306.3 354.7 305.9M354.4 307.3 355.1 307.7 355.9 308.0M353.7 307.4 354.2 307.5 354.6 307.9M354.2 307.5 354.7 307.5M351.8 308.1 352.7 308.1 353.5 308.1M350.6 307.3 351.2 306.8 351.9 307.3 351.2 307.8 350.6 307.3M351.3 308.7 352.0 309.0 352.8 309.0M350.0 307.9 350.7 307.4 351.5 307.9 350.7 308.4 350.0 307.9M350.1 309.2 350.0 309.8 350.1 310.4M350.0 309.8 350.2 310.3M349.4 309.7 350.3 309.5 351.2 309.1M350.3 309.5 350.9 310.1M348.5 310.4 348.9 310.8 349.4 311.0M346.5 308.6 347.4 308.0 348.2 308.6 347.4 309.2 346.5 308.6M347.6 310.7 347.4 311.6 347.9 312.4M74.0 477.9 73.2 477.7 72.4 477.3 71.6 476.9 71.0 476.3 70.1 476.1M71.6 476.9 70.9 477.3 70.1 477.5M73.4 478.5 74.0 477.6 74.6 476.7M74.0 477.6 73.7 477.0 73.6 476.4M72.6 479.0 71.6 479.3 70.6 479.4 69.6 479.6 68.6 479.8M71.9 479.2 71.6 478.1 72.1 477.2M71.6 478.1 71.2 477.7 70.6 477.6M70.7 479.9 69.8 479.4 69.1 478.6 68.1 478.5M70.2 480.3 69.4 479.6 68.7 478.8 67.8 478.3M68.7 478.8 69.0 478.3 69.3 477.8M69.6 480.8 70.4 480.5 71.1 480.0 71.8 479.4 72.1 478.5M71.1 480.0 70.7 479.5 70.5 478.8M68.9 481.1 68.9 480.2 69.3 479.4 69.4 478.5M68.0 481.3 67.2 480.6 66.3 480.0 66.1 479.0M66.1 481.9 65.5 481.1 64.8 480.4 64.6 479.4 63.9 478.7M64.8 480.4 65.0 479.6 65.7 479.1M65.2 482.1 66.0 481.7 66.5 481.0 67.2 480.6M64.3 481.8 65.0 481.2 65.8 480.6 66.6 480.0 67.4 479.4 67.8 478.6M63.8 481.4 63.6 480.6 63.1 479.9M63.6 480.6 62.9 480.5M62.7 481.2 62.4 480.3 62.1 479.3 61.8 478.4 61.5 477.5M62.1 479.3 62.5 478.9 62.9 478.5M62.0 480.7 62.6 480.0 63.4 479.5 63.5 478.5 63.6 477.6M61.0 480.4 60.3 479.9 59.9 479.0 59.5 478.3 59.2 477.4 59.2 476.5M60.2 480.1 61.1 479.5 62.2 479.3 63.2 479.5 64.2 480.1M62.2 479.3 62.4 478.6 63.1 478.3M59.0 479.7 60.0 479.4 61.0 479.6 61.7 478.9M61.0 479.6 61.3 480.0 61.6 480.5M58.5 479.4 58.2 478.6 57.9 477.7 57.7 476.9 57.2 476.1 57.2 475.3M57.2 476.1 58.2 475.9 58.9 475.1M57.4 479.0 58.2 478.5 58.8 477.7 59.2 476.9 59.9 476.4 60.4 475.5M56.6 478.5 56.9 477.7 57.3 476.9M55.5 477.6 55.7 476.6 56.0 475.5M55.7 476.6 55.2 475.7M54.7 477.2 55.1 476.4 55.0 475.5 54.7 474.6 54.7 473.7M55.0 475.5 55.7 474.9 56.6 474.7M53.8 476.8 53.2 476.1 52.3 475.8 51.7 475.1 51.1 474.4M53.2 476.1 53.5 475.5 54.0 475.0M53.0 476.4 53.8 475.9 54.8 475.6 55.7 475.3 56.7 475.2 57.5 474.6M56.7 475.2 57.5 475.0 58.4 474.8 59.2 474.3M51.9 476.1 52.7 476.6 53.6 476.3 54.5 476.1 55.4 475.9 56.3 475.7M53.6 476.3 53.7 475.4 54.5 474.9 54.9 474.1M51.2 475.6 51.5 474.6 51.5 473.5 51.4 472.5 50.9 471.5M51.5 473.5 51.0 473.1 50.8 472.5M50.4 474.9 51.3 474.7 52.3 474.5 53.2 474.1M51.3 474.7 51.5 473.8M49.6 474.5 50.6 474.2 51.7 474.2M50.6 474.2 51.3 474.3M48.8 473.7 48.7 472.7 48.5 471.8 48.4 470.8M48.7 472.7 48.5 472.2 48.2 471.7M48.1 473.1 48.2 472.2 47.6 471.4 46.9 470.7 46.6 469.8 46.7 468.8M46.9 470.7 47.1 469.7 47.5 468.8M47.6 472.5 47.0 471.5 47.1 470.5 47.3 469.4M46.6 471.9 47.2 471.4 47.6 470.7M47.2 471.4 46.9 470.9M46.1 471.3 47.0 471.4 47.7 471.9 48.6 471.8 49.3 472.2M45.6 470.4 46.5 470.6 47.4 470.7 48.1 470.1 48.7 469.4 49.5 468.9M47.4 470.7 48.1 471.0 48.8 471.0M45.1 469.6 45.9 470.0 46.8 469.8 47.7 469.5M46.8 469.8 47.6 469.2M44.3 468.8 45.2 469.0 46.0 468.6M43.8 468.2 44.6 467.6 45.5 467.3M42.8 466.6 43.6 466.1 44.1 465.2M43.6 466.1 42.9 465.5M42.0 465.8 42.7 466.4 43.3 467.1M42.7 466.4 43.2 465.9M41.5 465.0 42.2 464.4 42.8 463.9 43.7 463.6 44.6 463.6M43.7 463.6 44.7 463.5 45.5 464.2M41.1 464.3 41.9 463.9 42.4 463.2 43.2 462.8 43.8 462.1M43.2 462.8 42.8 462.0 42.4 461.2M40.6 463.7 41.4 463.1 42.2 462.5M39.8 463.1 40.8 463.1 41.8 462.9 42.5 462.2 43.3 461.6M42.5 462.2 42.6 461.4 43.0 460.6M39.4 462.1 40.3 462.1 41.1 462.7 42.0 462.6 42.9 462.7 43.8 462.6M41.1 462.7 41.3 463.4 41.8 464.0M38.7 461.3 38.5 460.5 38.4 459.7 38.2 458.9M38.4 459.7 39.1 459.3M37.8 461.0 38.6 460.6 39.4 460.2 40.2 459.8 41.1 459.7M39.4 460.2 39.8 459.4 40.5 458.8M36.9 460.5 37.7 460.0 38.2 459.2 38.7 458.4M37.7 460.0 37.0 459.2M36.4 459.9 37.4 459.7 38.4 459.5 39.0 458.6M37.4 459.7 38.1 460.0 38.7 460.5M35.3 459.2 35.9 458.7 36.5 458.1 37.3 457.8M35.9 458.7 36.6 458.9 37.3 459.0M34.9 458.7 34.0 458.2 33.6 457.3 33.3 456.3M33.9 458.4 34.0 457.4 34.1 456.4 34.5 455.5 35.2 454.7M34.0 457.4 33.5 456.9 33.0 456.3M33.1 457.9 33.9 457.6 34.7 457.2 35.6 457.0M32.3 457.5 32.1 456.5 32.0 455.6 32.0 454.6 32.1 453.6 32.3 452.7M31.8 457.1 32.6 456.9 33.3 456.5 34.2 456.6 34.9 456.2M34.2 456.6 34.7 457.3 35.5 457.8M31.1 456.9 31.5 456.0 32.2 455.2 32.2 454.2 32.4 453.2M29.9 456.3 29.9 455.4 30.2 454.5 30.2 453.5 30.4 452.6 30.5 451.7M29.3 456.0 30.1 455.5 30.8 455.0 31.5 454.5M28.7 455.8 28.2 455.2 27.7 454.6M28.2 455.2 28.1 454.5M27.8 455.7 28.3 454.7 28.6 453.7 28.7 452.6 28.2 451.6M28.6 453.7 29.5 453.8 30.3 453.5 30.9 452.9M26.7 455.4 27.1 454.5 27.2 453.6 27.3 452.6 27.0 451.7M25.9 455.1 26.5 454.3 26.9 453.4 27.1 452.5 27.6 451.7 28.0 450.8M26.5 454.3 26.3 453.5 26.5 452.7M24.8 454.9 25.6 454.3 26.2 453.4 27.0 452.9 27.7 452.1M26.2 453.4 26.7 453.7 27.4 453.8M24.1 454.7 24.2 453.8 23.9 452.9 23.3 452.2 22.6 451.5 22.7 450.6M23.2 454.6 23.0 453.8 23.1 452.9 23.4 452.1 23.3 451.2M23.0 453.8 22.1 453.3 21.1 453.4M21.9 454.5 22.0 453.6 22.2 452.8M21.1 454.4 20.3 453.9 20.2 453.0 19.8 452.2 19.0 451.6 18.5 450.9M20.5 454.3 21.2 453.7 21.6 452.9M21.2 453.7 22.1 453.2M19.3 454.3 19.2 453.3 18.6 452.6 17.9 452.1 17.4 451.2 17.2 450.3M18.2 454.1 18.7 453.5 19.3 452.9M17.2 454.0 16.4 453.4 16.0 452.5 15.4 451.7 15.1 450.7 14.5 450.0M16.8 454.3 16.0 453.8 15.5 453.0 15.3 452.1M16.0 455.0 15.3 454.2 14.3 453.9 13.4 453.3 12.4 453.0M14.3 453.9 14.0 454.5 13.3 454.8M14.4 455.7 14.0 454.8 13.5 454.0 13.0 453.1 12.7 452.2M13.0 453.1 12.5 452.5 12.2 451.9 11.8 451.2M13.5 456.1 13.1 455.3 13.1 454.3 12.9 453.4 12.5 452.6 12.3 451.7M12.8 456.1 12.8 455.3 12.6 454.5M12.8 455.3 12.7 454.7M11.7 456.3 10.8 455.9 9.9 455.4 8.9 455.5M10.8 455.9 11.0 455.3 10.9 454.6M11.2 456.4 10.7 455.7 10.5 454.8M10.7 455.7 10.7 455.0M9.9 456.6 9.5 455.6 9.6 454.6M9.5 455.6 9.8 455.1 10.1 454.6M9.2 456.7 8.9 455.9 8.5 455.1 8.2 454.4 7.6 453.8M8.5 455.1 8.3 454.2 8.8 453.4M8.8 456.2 9.2 455.3 9.9 454.5M8.1 455.3 9.0 455.3 9.9 455.2 10.7 455.8M7.6 454.7 7.3 453.7 7.9 452.8M7.0 454.2 6.8 453.3 7.1 452.3 7.2 451.3 7.4 450.4 7.3 449.4M6.6 453.4 7.3 453.9 8.1 454.2 8.8 454.7 9.7 454.9M6.3 452.8 7.2 452.7 8.1 452.6 8.8 453.1M7.2 452.7 7.5 453.6M6.2 451.8 6.9 451.4 7.7 451.1 8.6 451.1 9.3 450.7M7.7 451.1 7.8 450.3 7.8 449.4M5.7 450.4 6.5 450.3 7.4 450.1 8.3 450.4 9.2 450.5M5.4 449.5 6.1 449.9 6.8 450.3 7.6 450.5M6.1 449.9 6.8 449.8 7.4 449.7M4.7 448.4 5.4 447.8 6.1 447.2 6.8 446.6 7.6 446.2M6.1 447.2 5.7 446.3 5.3 445.4M4.1 447.7 4.7 447.0 5.4 446.7 6.0 446.0M4.7 447.0 5.3 447.5M3.2 446.1 4.0 445.9 4.8 445.6 5.6 445.3 6.5 445.2M2.8 445.5 3.4 446.2 4.5 446.4 5.5 446.6 6.5 447.0M2.4 444.4 3.2 444.9 4.1 444.8M3.2 444.9 3.8 445.8M2.2 443.5 2.9 444.2 3.3 445.1 4.2 445.3 5.1 445.4 6.0 445.6M1.5 440.9 2.4 441.1 3.2 441.1 4.0 440.8M2.4 441.1 3.0 440.8 3.6 440.5M1.3 440.1 2.1 440.7 3.0 441.1 3.9 441.4 4.3 442.3M3.9 441.4 4.2 442.4 4.0 443.4M1.3 439.0 1.5 438.0 2.3 437.4 2.8 436.5 3.4 435.7M2.3 437.4 2.8 437.9 3.3 438.3M1.3 438.2 2.2 438.4 3.1 438.1 3.8 437.5M3.1 438.1 3.3 437.1M1.3 437.2 2.2 437.2 3.1 436.9 4.0 437.3M2.2 437.2 2.8 437.9M1.2 436.6 1.2 435.6 1.1 434.6M1.2 435.6 2.0 435.7M1.2 435.5 2.1 435.5 2.9 436.0 3.8 436.2M1.2 435.0 1.7 434.2 2.1 433.3 2.6 432.4 3.3 431.8M1.1 433.9 2.0 434.3 2.8 434.6 3.7 435.0 4.6 435.2M3.7 435.0 4.0 434.2 4.3 433.4M1.1 433.0 2.2 433.1 3.3 433.0 4.3 432.7 5.3 433.0M3.3 433.0 3.5 432.3 3.5 431.5 4.1 431.0M48.4 458.0 47.6 458.5 47.1 459.4 46.6 460.1 45.7 460.5 45.1 461.2 44.8 462.1M46.6 460.1 45.8 459.8 45.0 459.9 44.1 459.8 43.4 460.1M47.9 457.0 46.9 457.3 46.2 458.1 45.6 458.9M46.9 457.3 46.0 457.5 45.2 457.5M47.0 455.3 46.3 455.8 45.4 455.9 44.8 456.5 43.9 456.5M46.3 455.8 46.0 456.7 46.2 457.6M46.5 454.2 46.4 455.0 46.3 455.9 46.3 456.7 46.0 457.5M46.1 453.6 45.7 454.4 45.5 455.2 45.2 456.0 45.1 456.8M45.6 452.5 45.2 453.5 44.9 454.5 44.7 455.6 43.9 456.3 43.3 457.2M44.9 454.5 43.9 454.3 42.9 454.5 41.8 454.6M45.0 451.4 44.2 451.0 43.5 450.4 42.9 449.7M44.2 451.0 44.4 450.3 44.1 449.6M44.3 450.5 44.1 451.3 44.3 452.2 44.1 453.1 44.6 453.8M44.1 451.3 45.2 451.5 46.0 452.0M43.9 449.6 42.9 449.8 42.1 450.3 41.1 450.2 40.1 450.5M43.3 448.7 42.7 449.5 42.6 450.5 42.0 451.3 41.6 452.3 41.0 453.1M42.8 447.8 42.7 448.6 42.6 449.3 42.3 450.1M42.7 448.6 42.6 449.4M41.8 447.1 41.0 446.7 40.3 446.1 39.3 445.9 38.5 446.2 37.6 445.8 36.7 446.1M39.3 445.9 38.5 445.5 37.8 444.8 37.5 443.9M41.0 446.4 41.4 447.1 41.7 447.9 42.0 448.6 42.2 449.4M42.0 448.6 41.0 448.7M38.6 444.0 39.4 444.7 40.1 445.5 40.3 446.5M39.4 444.7 40.2 444.6 40.9 444.9M37.7 444.3 37.3 445.1 37.5 446.0 37.9 446.8M37.5 446.0 37.8 446.6 38.5 446.7M36.7 444.7 35.8 445.2 35.3 446.0 34.6 446.7 34.2 447.6 33.8 448.5M35.9 445.0 36.6 445.8 37.4 446.5 38.3 447.1 39.0 447.8 39.9 448.4M39.0 447.8 38.2 448.2 37.6 448.8 36.9 449.4M34.9 445.3 35.8 445.9 36.6 446.5 37.5 447.0M35.8 445.9 36.4 445.9 36.8 445.6M33.0 447.2 33.8 447.9 34.3 448.8 35.2 449.2 36.0 449.9M32.3 448.0 31.8 448.8 31.6 449.8 31.2 450.7 30.8 451.6M31.2 450.7 31.5 451.4 31.8 452.1M31.4 448.6 31.3 449.6 31.4 450.5 31.9 451.4 32.6 452.0 33.0 452.9M31.4 450.5 31.5 451.4 31.8 452.2 31.3 453.0M30.7 449.4 31.3 450.0 32.2 450.0 33.0 449.9 33.8 450.3M33.0 449.9 32.9 450.7 33.0 451.4M29.9 450.3 30.4 451.0 31.0 451.6 31.8 451.9 32.6 451.9M30.4 451.0 31.0 450.6 31.6 450.2M29.2 451.1 29.5 451.9 29.2 452.8 29.2 453.7 29.7 454.5M140.9 295.5 141.7 295.9 142.7 296.1 143.5 296.6 144.5 296.6M142.7 296.1 143.4 296.8 144.3 297.3M142.0 296.3 142.7 295.6 143.5 294.9 144.0 294.0M142.8 297.1 143.8 297.0 144.7 296.8M143.7 297.8 144.1 297.0 144.2 296.0 144.5 295.2 144.9 294.3M144.5 298.4 145.4 298.5 146.2 299.0 147.1 299.2 148.0 299.4M145.2 299.3 146.0 299.5 146.8 299.5 147.7 299.3M146.0 299.5 146.7 299.1M145.8 300.4 146.5 300.0 147.2 299.7M146.5 300.0 147.0 299.6M146.7 301.3 147.8 301.4 148.9 301.3M147.8 301.4 148.3 300.6M156.5 294.8 157.4 294.3 158.4 293.9 159.3 293.4 160.1 292.7 161.1 292.4M157.7 294.4 157.3 293.6 157.2 292.6 157.2 291.7 156.8 290.9 156.6 290.0M159.3 294.5 160.1 294.1 160.9 293.5 161.7 293.0 162.6 292.9 163.5 292.7 164.3 292.1M161.7 293.0 162.1 293.8 162.4 294.6 162.6 295.4 163.2 296.0M160.6 296.4 161.3 295.6 161.9 294.7 162.3 293.7 162.9 292.8 163.7 292.1M161.9 297.9 162.7 297.4 163.6 297.0 164.6 296.7 165.5 296.5 166.3 295.8 167.0 295.2M163.0 297.3 163.0 296.4 163.1 295.5 163.4 294.6M163.0 296.4 163.7 296.3 164.4 296.3M163.6 296.6 162.8 296.6 162.0 296.6 161.2 296.3 160.4 296.1M162.8 296.6 162.6 297.3 162.3 298.0M164.8 296.1 164.0 296.3 163.2 296.5 162.4 296.2 161.7 296.5M163.2 296.5 162.7 297.2 162.0 297.7M165.6 295.3 164.8 294.8 163.9 294.6 163.1 294.0 162.7 293.1 162.0 292.5M162.7 293.1 162.9 292.2 162.6 291.4 162.0 290.8M166.3 295.2 165.7 294.5 164.9 293.9 164.4 293.1 164.2 292.2M165.7 294.5 165.6 293.6 165.5 292.7M167.6 294.9 168.3 294.2 168.6 293.3 169.0 292.5M168.7 294.7 167.6 294.5 166.9 293.8 166.3 292.9 165.3 292.6 164.8 291.7M167.6 294.5 166.8 294.5 166.0 294.4M169.7 294.5 169.0 293.7 168.1 293.1 167.4 292.3 166.6 291.5 166.0 290.6M166.6 291.5 166.9 290.6 166.7 289.7M170.7 295.1 171.6 294.9 172.3 294.4 172.7 293.6 173.1 292.9M171.7 295.6 172.5 296.2 173.4 296.8 174.4 297.0 175.4 297.0M157.4 304.9 158.1 305.2 158.9 305.3 159.6 305.5M158.1 305.2 158.4 305.9M158.3 304.5 158.4 305.3 158.7 306.1 158.6 307.0 158.7 307.8M158.4 305.3 159.0 306.0 159.9 306.1M159.8 303.9 160.7 304.0 161.5 304.5 162.2 305.0 163.2 304.9M160.7 304.0 161.5 303.6 162.0 302.9M160.9 303.4 160.1 304.1 159.8 304.9 158.8 305.2M159.8 304.9 159.3 305.4 158.8 305.7M161.6 302.9 162.5 303.2 163.3 302.9 164.1 302.5 165.0 302.7M163.3 302.9 164.0 302.4 164.7 302.0M163.0 302.6 163.5 303.2 164.2 303.6 164.7 304.3M164.2 303.6 164.5 304.7M163.9 302.1 164.7 302.1 165.4 302.4 166.1 302.1M166.5 300.1 165.8 300.9 165.6 302.0M165.8 300.9 165.4 301.4 164.9 301.5M167.2 299.4 168.0 298.8 168.8 298.3 169.6 297.8 170.6 297.8 171.4 297.4M169.6 297.8 170.2 296.9 170.8 296.0M168.3 298.8 168.1 299.8 168.4 300.9M168.1 299.8 167.3 300.0M169.5 298.5 168.6 299.0 168.2 299.9 167.3 300.3 166.4 300.7 165.5 301.2M168.6 299.0 167.9 298.4 167.1 297.9 166.5 297.3M170.1 298.2 170.4 299.3 170.2 300.3M170.4 299.3 170.9 300.1"/>
<path class="ln" d="M306.2 28.8 300.6 31.6"/>
<path class="ln" d="M307.0 29.6 307.0 33.6 303.0 40.0"/>
<path class="ln" d="M321.4 23.6 327.0 28.0 327.8 23.2"/>
<path class="ln" d="M315.0 44.8 307.8 46.4"/>
<path class="ln" d="M321.4 46.4 319.8 50.4 319.0 54.4 318.6 58.4"/>
<path class="ln" d="M370.6 291.1 373.1 294.9"/>
<path class="ln" d="M367.2 286.8 369.8 290.2"/>
<path class="ln" d="M370.6 302.1 374.0 305.5"/>
<path class="ln" d="M355.4 308.4 358.8 310.5 362.1 308.8 365.5 312.2 368.1 311.4"/>
<path class="ln" d="M354.5 307.6 357.1 309.3 359.6 308.4"/>
<path class="ln" d="M111.4 325.1 106.7 324.4 104.7 326.7 107.4 331.7 108.7 335.7 112.0 340.4 115.1 343.1"/>
<path class="ln" d="M149.6 298.3 152.0 295.6 154.5 298.8 156.2 303.8 155.4 307.2 151.6 308.2 148.6 307.2"/>

<g fill="none" stroke="#120312" stroke-width="1.3" stroke-linejoin="miter" opacity="0.95">
<path d="M422.5 353.5L428.1 343.1H432.9L438 353.5Z"/>
<path d="M430.3 342.4V337.6M432.2 342.2L434.8 337.8M428.6 342.2L426.6 338" stroke-width="1.1"/>
</g>
<circle cx="426.4" cy="337.3" r="1.4" fill="#100"/><rect x="429.4" y="352.9" width="2.4" height="1.7" fill="#100"/>
<path class="grid" d="M51.5 -4V228.6M51.5 257V491"/>
<path class="grid" d="M256.5 -4V228.6M256.5 257V491"/>
<path class="grid" d="M462.5 -4V228.6M462.5 257V491"/>
<path class="grid" d="M667.5 -4V228.6M667.5 257V491"/>
<path class="grid" d="M2 476.5H143.6"/>
<path class="grid" style="stroke-dasharray:1 3 2 3" d="M166 476.5H349.2M371.5 476.5H554.7M577 476.5H748.4"/>
<rect x="54.6" y="327.4" width="1.3" height="1.2" fill="#666"/>
<rect x="259.6" y="327.4" width="1.3" height="1.2" fill="#666"/>
<rect x="465.6" y="327.4" width="1.3" height="1.2" fill="#666"/>
<rect x="670.6" y="327.4" width="1.3" height="1.2" fill="#666"/>
<rect x="54.6" y="147.6" width="1.3" height="1.2" fill="#666"/>
<rect x="259.6" y="147.6" width="1.3" height="1.2" fill="#666"/>
<rect x="465.6" y="147.6" width="1.3" height="1.2" fill="#666"/>
<rect x="670.6" y="147.6" width="1.3" height="1.2" fill="#666"/>
<rect x="119.1" y="472.5" width="1.3" height="1.2" fill="#666"/>
<rect x="187.6" y="472.5" width="1.3" height="1.2" fill="#666"/>
<rect x="324.6" y="472.5" width="1.3" height="1.2" fill="#666"/>
<rect x="393.1" y="472.5" width="1.3" height="1.2" fill="#666"/>
<rect x="530.1" y="472.5" width="1.3" height="1.2" fill="#666"/>
<rect x="598.6" y="472.5" width="1.3" height="1.2" fill="#666"/>
<rect x="735.6" y="472.5" width="1.3" height="1.2" fill="#666"/>
<text class="lab" transform="translate(52.0 243) rotate(-90)" y="4">45W</text>
<text class="lab" transform="translate(257.0 243) rotate(-90)" y="4">30W</text>
<text class="lab" transform="translate(463.0 243) rotate(-90)" y="4">15W</text>
<text class="lab" transform="translate(668.0 243) rotate(-90)" y="4">0W</text>
<text class="lab" x="153.9" y="481.8" textLength="18.6" lengthAdjust="spacingAndGlyphs">60N</text>
<text class="lab" x="359.4" y="481.8" textLength="18.6" lengthAdjust="spacingAndGlyphs">60N</text>
<text class="lab" x="564.9" y="481.8" textLength="18.6" lengthAdjust="spacingAndGlyphs">60N</text>
<path class="fir" d="M393.8 18.5H667.7M667.7 0V450.0M393.8 17.0L393.7 148.2L382.9 159.0L372.0 169.7L361.2 180.2L350.3 190.5L339.5 200.8L328.6 210.9L317.8 220.9L306.9 230.8L296.1 240.6L285.2 250.3L274.4 259.8L263.6 269.3L252.7 278.6L241.9 287.9L231.0 297.0L220.2 306.1L209.3 315.0L198.5 323.9L187.6 332.7L176.8 341.4L165.9 350.0L155.1 358.5L144.2 366.9L133.4 375.3L138.5 378.5L143.7 381.6L148.8 384.8L154.0 388.0L159.1 391.1L164.2 394.3L169.4 397.4L174.5 400.5L179.6 403.6L184.8 406.7L189.9 409.8L195.1 412.8L200.2 415.9L205.3 418.9L210.5 422.0L215.6 425.0L220.7 428.0L225.9 431.0L231.0 434.0L236.2 437.0L241.3 440.0L246.4 443.0L251.6 445.9L256.7 448.5H669.2M0 375.3H133.4L131.1 381.6L128.8 388.0L126.6 394.3L124.3 400.5L122.0 406.7L119.7 412.8L117.4 418.9L115.1 425.0L112.9 431.0L110.6 437.0L108.3 443.0L106.0 448.9L103.7 454.7L101.4 460.6L99.2 466.4L96.9 472.1L94.6 477.8L92.3 483.5L90.0 489.2L87.7 494.8L85.5 500.4L83.2 505.9L80.9 511.4L78.6 516.9"/>
</svg>
<div id="info">
<div style="top:7.5px"><b>Veðurstofan/Name</b>: Lau. 31. 01. 2026 00Z (+15 h)</div>
<div style="top:24.3px">Spá um öskudreifingu (g/m3) í 700hPa (10000ft)</div>
<div style="top:40px"><span style="letter-spacing:0.9px">IT:</span> Lau. 31. 01. 2026 00Z</div>
<div style="top:55.4px"><b><span style="letter-spacing:0.5px">VT:</span> Lau. <span style="letter-spacing:-0.13px">31.01.2026 15Z</span></b> (+15 h)</div>
</div>
<svg id="legend" width="750" height="41" viewBox="0 491 750 41">
<rect x="0" y="491" width="750" height="41" fill="#fff"/>
<defs>
<clipPath id="c0"><rect x="1.00" y="492.5" width="124.60" height="22"/></clipPath>
<clipPath id="c1"><rect x="125.60" y="492.5" width="124.60" height="22"/></clipPath>
<clipPath id="c2"><rect x="250.20" y="492.5" width="124.60" height="22"/></clipPath>
<clipPath id="c3"><rect x="374.80" y="492.5" width="124.60" height="22"/></clipPath>
<clipPath id="c4"><rect x="499.40" y="492.5" width="124.60" height="22"/></clipPath>
<clipPath id="c5"><rect x="624.00" y="492.5" width="125.50" height="22"/></clipPath>
</defs>
<g clip-path="url(#c0)">
<rect x="0.00" y="492" width="126.60" height="23" fill="#33cccc"/>
<path d="M1.90 503.9h11.49v10.8h-11.49zM13.39 493.1h11.49v10.8h-11.49zM24.88 503.9h11.49v10.8h-11.49zM36.38 493.1h11.49v10.8h-11.49zM47.87 503.9h11.49v10.8h-11.49zM59.36 493.1h11.49v10.8h-11.49zM70.85 503.9h11.49v10.8h-11.49zM82.35 493.1h11.49v10.8h-11.49zM93.84 503.9h11.49v10.8h-11.49zM105.33 493.1h11.49v10.8h-11.49zM116.82 503.9h11.49v10.8h-11.49z" fill="#1fb3b3"/>
</g>
<g clip-path="url(#c1)">
<rect x="124.60" y="492" width="126.60" height="23" fill="#91b035"/>
<path d="M116.82 503.9h11.49v10.8h-11.49zM128.32 493.1h11.49v10.8h-11.49zM139.81 503.9h11.49v10.8h-11.49zM151.30 493.1h11.49v10.8h-11.49zM162.79 503.9h11.49v10.8h-11.49zM174.28 493.1h11.49v10.8h-11.49zM185.78 503.9h11.49v10.8h-11.49zM197.27 493.1h11.49v10.8h-11.49zM208.76 503.9h11.49v10.8h-11.49zM220.25 493.1h11.49v10.8h-11.49zM231.75 503.9h11.49v10.8h-11.49zM243.24 493.1h11.49v10.8h-11.49z" fill="#7a9a1c"/>
</g>
<g clip-path="url(#c2)">
<rect x="249.20" y="492" width="126.60" height="23" fill="#d0cc2e"/>
<path d="M243.24 493.1h11.49v10.8h-11.49zM254.73 503.9h11.49v10.8h-11.49zM266.22 493.1h11.49v10.8h-11.49zM277.72 503.9h11.49v10.8h-11.49zM289.21 493.1h11.49v10.8h-11.49zM300.70 503.9h11.49v10.8h-11.49zM312.19 493.1h11.49v10.8h-11.49zM323.68 503.9h11.49v10.8h-11.49zM335.18 493.1h11.49v10.8h-11.49zM346.67 503.9h11.49v10.8h-11.49zM358.16 493.1h11.49v10.8h-11.49zM369.65 503.9h11.49v10.8h-11.49z" fill="#b5b218"/>
</g>
<g clip-path="url(#c3)">
<rect x="373.80" y="492" width="126.60" height="23" fill="#d0963a"/>
<path d="M369.65 503.9h11.49v10.8h-11.49zM381.15 493.1h11.49v10.8h-11.49zM392.64 503.9h11.49v10.8h-11.49zM404.13 493.1h11.49v10.8h-11.49zM415.62 503.9h11.49v10.8h-11.49zM427.12 493.1h11.49v10.8h-11.49zM438.61 503.9h11.49v10.8h-11.49zM450.10 493.1h11.49v10.8h-11.49zM461.59 503.9h11.49v10.8h-11.49zM473.08 493.1h11.49v10.8h-11.49zM484.58 503.9h11.49v10.8h-11.49zM496.07 493.1h11.49v10.8h-11.49z" fill="#b57b20"/>
</g>
<g clip-path="url(#c4)">
<rect x="498.40" y="492" width="126.60" height="23" fill="#8c338c"/>
<path d="M496.07 493.1h11.49v10.8h-11.49zM507.56 503.9h11.49v10.8h-11.49zM519.05 493.1h11.49v10.8h-11.49zM530.55 503.9h11.49v10.8h-11.49zM542.04 493.1h11.49v10.8h-11.49zM553.53 503.9h11.49v10.8h-11.49zM565.02 493.1h11.49v10.8h-11.49zM576.52 503.9h11.49v10.8h-11.49zM588.01 493.1h11.49v10.8h-11.49zM599.50 503.9h11.49v10.8h-11.49zM610.99 493.1h11.49v10.8h-11.49zM622.48 503.9h11.49v10.8h-11.49z" fill="#731a73"/>
</g>
<g clip-path="url(#c5)">
<rect x="623.00" y="492" width="127.50" height="23" fill="#d03333"/>
<path d="M622.48 503.9h11.49v10.8h-11.49zM633.98 493.1h11.49v10.8h-11.49zM645.47 503.9h11.49v10.8h-11.49zM656.96 493.1h11.49v10.8h-11.49zM668.45 503.9h11.49v10.8h-11.49zM679.95 493.1h11.49v10.8h-11.49zM691.44 503.9h11.49v10.8h-11.49zM702.93 493.1h11.49v10.8h-11.49zM714.42 503.9h11.49v10.8h-11.49zM725.92 493.1h11.49v10.8h-11.49zM737.41 503.9h11.49v10.8h-11.49zM748.90 493.1h11.49v10.8h-11.49z" fill="#b51a1a"/>
</g>
<path d="M0 492H750" stroke="#000" stroke-width="2" fill="none"/>
<path d="M0 515.2H750" stroke="#000" stroke-width="1.2" fill="none"/>
<path d="M125.60 492V515M250.20 492V515M374.80 492V515M499.40 492V515M624.00 492V515" stroke="#000" stroke-width="1.8" fill="none"/>
</svg>
<div class="lg" style="left:1.6px">0.0002</div>
<div class="lg" style="left:126.0px">0.002</div>
<div class="lg" style="left:250.6px">0.004</div>
<div class="lg" style="left:375.3px">0.01</div>
<div class="lg" style="left:499.9px">0.1</div>
<div class="lg" style="left:624.6px">1</div>
<svg id="frame" width="750" height="532" viewBox="0 0 750 532"><path d="M0 0H750V532H0ZM1.5 1.5V530.2H748.4V1.5Z" fill="#000" fill-rule="evenodd"/><path d="M295.2 0h1.6v78.6H0v-1.9h295.2z" fill="#111"/></svg>
</body></html>
